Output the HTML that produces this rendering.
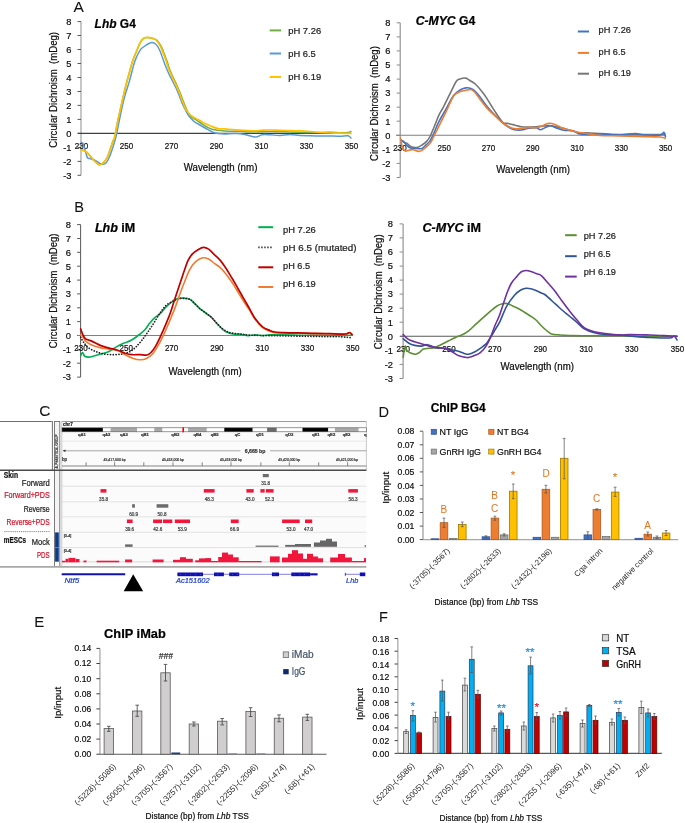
<!DOCTYPE html>
<html><head><meta charset="utf-8"><title>Figure</title>
<style>
html,body{margin:0;padding:0;background:#fff;}
body{width:685px;height:823px;overflow:hidden;}
svg{display:block;font-family:"Liberation Sans", sans-serif;will-change:transform;}
</style></head>
<body>
<svg width="685" height="823" viewBox="0 0 685 823">
<rect x="0" y="0" width="685" height="823" fill="#fff"/>
<text x="73.6" y="12.0" font-size="15.5" stroke="#111" stroke-width="0.05" fill="#111">A</text>
<line x1="81.0" y1="21.6" x2="81.0" y2="175.3" stroke="#BDBDBD" stroke-width="1.7" />
<line x1="77.5" y1="175.3" x2="81.0" y2="175.3" stroke="#595959" stroke-width="1.0" />
<text x="71.5" y="178.6" font-size="9.3" stroke="#262626" stroke-width="0.22" text-anchor="end">-3</text>
<line x1="77.5" y1="161.4" x2="81.0" y2="161.4" stroke="#595959" stroke-width="1.0" />
<text x="71.5" y="164.7" font-size="9.3" stroke="#262626" stroke-width="0.22" text-anchor="end">-2</text>
<line x1="77.5" y1="147.4" x2="81.0" y2="147.4" stroke="#595959" stroke-width="1.0" />
<text x="71.5" y="150.7" font-size="9.3" stroke="#262626" stroke-width="0.22" text-anchor="end">-1</text>
<line x1="77.5" y1="133.4" x2="81.0" y2="133.4" stroke="#595959" stroke-width="1.0" />
<text x="71.5" y="136.7" font-size="9.3" stroke="#262626" stroke-width="0.22" text-anchor="end">0</text>
<line x1="77.5" y1="119.4" x2="81.0" y2="119.4" stroke="#595959" stroke-width="1.0" />
<text x="71.5" y="122.7" font-size="9.3" stroke="#262626" stroke-width="0.22" text-anchor="end">1</text>
<line x1="77.5" y1="105.4" x2="81.0" y2="105.4" stroke="#595959" stroke-width="1.0" />
<text x="71.5" y="108.7" font-size="9.3" stroke="#262626" stroke-width="0.22" text-anchor="end">2</text>
<line x1="77.5" y1="91.5" x2="81.0" y2="91.5" stroke="#595959" stroke-width="1.0" />
<text x="71.5" y="94.8" font-size="9.3" stroke="#262626" stroke-width="0.22" text-anchor="end">3</text>
<line x1="77.5" y1="77.5" x2="81.0" y2="77.5" stroke="#595959" stroke-width="1.0" />
<text x="71.5" y="80.8" font-size="9.3" stroke="#262626" stroke-width="0.22" text-anchor="end">4</text>
<line x1="77.5" y1="63.5" x2="81.0" y2="63.5" stroke="#595959" stroke-width="1.0" />
<text x="71.5" y="66.8" font-size="9.3" stroke="#262626" stroke-width="0.22" text-anchor="end">5</text>
<line x1="77.5" y1="49.5" x2="81.0" y2="49.5" stroke="#595959" stroke-width="1.0" />
<text x="71.5" y="52.8" font-size="9.3" stroke="#262626" stroke-width="0.22" text-anchor="end">6</text>
<line x1="77.5" y1="35.5" x2="81.0" y2="35.5" stroke="#595959" stroke-width="1.0" />
<text x="71.5" y="38.8" font-size="9.3" stroke="#262626" stroke-width="0.22" text-anchor="end">7</text>
<line x1="77.5" y1="21.6" x2="81.0" y2="21.6" stroke="#595959" stroke-width="1.0" />
<text x="71.5" y="24.9" font-size="9.3" stroke="#262626" stroke-width="0.22" text-anchor="end">8</text>
<line x1="77.8" y1="133.4" x2="351.0" y2="133.4" stroke="#404040" stroke-width="1.1" />
<text x="81.5" y="149.3" font-size="9.3" stroke="#262626" stroke-width="0.22" text-anchor="middle" textLength="13.4" lengthAdjust="spacingAndGlyphs">230</text>
<text x="126.5" y="149.3" font-size="9.3" stroke="#262626" stroke-width="0.22" text-anchor="middle" textLength="13.4" lengthAdjust="spacingAndGlyphs">250</text>
<text x="171.5" y="149.3" font-size="9.3" stroke="#262626" stroke-width="0.22" text-anchor="middle" textLength="13.4" lengthAdjust="spacingAndGlyphs">270</text>
<text x="216.5" y="149.3" font-size="9.3" stroke="#262626" stroke-width="0.22" text-anchor="middle" textLength="13.4" lengthAdjust="spacingAndGlyphs">290</text>
<text x="261.5" y="149.3" font-size="9.3" stroke="#262626" stroke-width="0.22" text-anchor="middle" textLength="13.4" lengthAdjust="spacingAndGlyphs">310</text>
<text x="306.5" y="149.3" font-size="9.3" stroke="#262626" stroke-width="0.22" text-anchor="middle" textLength="13.4" lengthAdjust="spacingAndGlyphs">330</text>
<text x="351.5" y="149.3" font-size="9.3" stroke="#262626" stroke-width="0.22" text-anchor="middle" textLength="13.4" lengthAdjust="spacingAndGlyphs">350</text>
<text transform="translate(57.4,89.8) rotate(-90)" font-size="10.3" stroke="#262626" stroke-width="0.22" text-anchor="middle" textLength="115.7" lengthAdjust="spacingAndGlyphs">Circular Dichroism&#160; (mDeg)</text>
<text x="183.7" y="170.8" font-size="10.0" stroke="#262626" stroke-width="0.22" textLength="73.7" lengthAdjust="spacingAndGlyphs">Wavelength (nm)</text>
<text x="94.6" y="27.8" font-size="12.5" stroke="#000" stroke-width="0.22" font-weight="bold" fill="#000" textLength="41.2" lengthAdjust="spacingAndGlyphs"><tspan font-style="italic">Lhb</tspan> G4</text>
<path d="M81.5,150.2C81.9,150.2 83.1,150.1 84.0,150.5C84.9,150.9 85.8,151.4 87.0,152.5C88.2,153.6 89.7,155.5 91.0,157.0C92.3,158.5 93.7,160.2 95.0,161.5C96.3,162.8 97.6,164.4 98.9,164.7C100.2,164.9 101.7,164.1 103.0,163.0C104.3,161.9 105.8,160.2 107.0,158.0C108.2,155.8 109.0,152.8 110.0,150.0C111.0,147.2 112.2,143.1 113.0,141.0C113.8,138.9 113.8,140.9 114.6,137.4C115.4,133.9 116.8,125.8 118.0,120.0C119.2,114.2 120.7,107.9 121.9,102.4C123.2,96.9 124.3,91.9 125.5,87.0C126.7,82.1 127.9,77.7 129.2,73.2C130.4,68.7 131.8,63.6 133.0,60.0C134.2,56.4 135.4,54.0 136.5,51.3C137.6,48.6 138.5,46.0 139.5,44.0C140.5,42.0 141.4,40.6 142.3,39.6C143.2,38.6 143.9,38.1 145.0,37.8C146.1,37.5 147.8,37.6 149.1,37.7C150.4,37.8 151.7,38.1 152.9,38.5C154.1,38.9 155.4,39.2 156.4,39.9C157.4,40.6 158.2,41.8 158.9,42.8C159.6,43.8 160.1,44.4 160.8,45.7C161.5,46.9 162.2,48.6 162.9,50.3C163.6,52.0 164.3,54.0 165.1,56.0C165.8,58.0 166.7,60.1 167.4,62.3C168.1,64.5 168.6,66.7 169.5,69.1C170.4,71.5 171.7,74.1 172.9,76.8C174.1,79.5 175.6,82.6 176.8,85.2C178.0,87.8 178.9,89.9 179.9,92.3C180.9,94.7 181.9,97.6 182.7,99.8C183.5,102.0 183.9,102.8 184.9,105.3C185.9,107.8 187.8,112.5 189.0,114.5C190.2,116.5 190.9,116.6 192.0,117.5C193.1,118.4 194.5,118.9 195.8,119.7C197.1,120.5 198.3,121.4 200.0,122.5C201.7,123.6 203.8,125.3 206.0,126.5C208.2,127.7 209.8,128.9 212.9,129.6C216.0,130.3 220.2,130.6 224.7,130.9C229.2,131.2 234.9,131.2 240.0,131.3C245.1,131.5 250.5,131.8 255.5,131.8C260.5,131.8 264.2,131.5 270.0,131.5C275.8,131.5 283.3,131.8 290.0,132.0C296.7,132.2 303.3,132.4 310.0,132.5C316.7,132.6 325.0,132.2 330.0,132.3C335.0,132.4 337.0,132.8 340.0,132.8C343.0,132.8 346.2,132.7 348.0,132.5C349.8,132.3 350.5,131.7 351.0,131.5" fill="none" stroke="#70AD47" stroke-width="1.5" stroke-linejoin="round" stroke-linecap="round"/>
<path d="M81.5,142.3C81.8,142.5 82.4,142.2 83.0,143.5C83.6,144.8 84.3,147.7 85.0,150.0C85.7,152.3 86.6,156.2 87.4,157.6C88.2,159.0 89.0,158.1 90.0,158.5C91.0,158.9 92.3,159.3 93.5,159.8C94.7,160.3 95.9,160.9 97.0,161.5C98.1,162.1 99.0,163.1 100.0,163.5C101.0,163.9 102.1,164.3 103.1,164.2C104.1,164.1 105.0,164.0 106.0,163.0C107.0,162.0 108.0,160.2 109.0,158.0C110.0,155.8 111.1,152.7 112.0,150.0C112.9,147.3 113.7,144.8 114.5,142.0C115.3,139.2 115.8,137.7 116.7,133.5C117.6,129.3 118.8,122.8 120.0,117.0C121.2,111.2 122.5,104.8 124.0,99.0C125.5,93.2 127.5,87.7 129.2,81.9C130.9,76.1 132.7,68.3 134.0,64.0C135.3,59.7 136.1,58.1 137.0,56.0C137.9,53.9 138.6,52.6 139.4,51.3C140.2,50.0 140.8,49.1 142.0,48.0C143.2,46.9 145.5,45.5 146.7,44.7C147.9,44.0 148.2,43.9 149.0,43.5C149.8,43.1 151.0,42.6 151.8,42.5C152.6,42.4 153.2,42.5 154.0,43.0C154.8,43.5 155.9,44.1 156.9,45.4C157.9,46.7 159.0,48.8 160.0,51.0C161.0,53.2 161.9,56.1 162.8,58.6C163.7,61.1 164.5,63.6 165.5,66.0C166.5,68.4 167.5,70.9 168.6,73.2C169.7,75.5 170.8,77.6 172.0,80.0C173.2,82.4 174.7,85.3 175.9,87.8C177.1,90.3 178.0,92.6 179.0,95.0C180.0,97.4 180.8,100.1 181.8,102.4C182.8,104.7 184.0,107.0 185.0,109.0C186.0,111.0 186.6,112.5 187.6,114.1C188.6,115.7 189.8,117.2 191.0,118.5C192.2,119.8 193.4,121.0 194.9,122.1C196.4,123.2 198.2,123.9 200.0,125.0C201.8,126.1 203.8,127.3 206.0,128.5C208.2,129.7 210.9,131.4 212.9,132.2C214.9,133.0 216.0,133.2 218.0,133.5C220.0,133.8 221.9,133.9 224.7,133.9C227.5,133.9 231.6,133.4 235.0,133.5C238.4,133.6 241.6,133.9 245.0,134.5C248.4,135.1 252.7,136.9 255.5,137.0C258.3,137.1 259.6,135.2 262.0,134.8C264.4,134.4 267.0,134.7 270.0,134.8C273.0,134.9 276.7,135.6 280.0,135.5C283.3,135.4 286.7,134.5 290.0,134.5C293.3,134.5 296.7,135.3 300.0,135.5C303.3,135.7 306.7,135.7 310.0,135.8C313.3,135.9 316.7,136.0 320.0,136.0C323.3,136.0 326.7,135.9 330.0,136.0C333.3,136.1 337.0,136.3 340.0,136.3C343.0,136.3 346.2,135.5 348.0,135.8C349.8,136.1 350.5,137.6 351.0,138.0" fill="none" stroke="#5B9BD5" stroke-width="1.5" stroke-linejoin="round" stroke-linecap="round"/>
<path d="M81.5,150.2C81.9,150.2 83.1,150.1 84.0,150.5C84.9,150.9 85.8,151.4 87.0,152.5C88.2,153.6 89.7,155.5 91.0,157.0C92.3,158.5 93.7,160.2 95.0,161.5C96.3,162.8 97.6,164.4 98.9,164.7C100.2,164.9 101.7,164.1 103.0,163.0C104.3,161.9 105.8,160.2 107.0,158.0C108.2,155.8 109.0,152.8 110.0,150.0C111.0,147.2 112.2,143.1 113.0,141.0C113.8,138.9 113.8,140.9 114.6,137.4C115.4,133.9 116.8,125.8 118.0,120.0C119.2,114.2 120.7,107.9 121.9,102.4C123.2,96.9 124.3,91.9 125.5,87.0C126.7,82.1 127.9,77.7 129.2,73.2C130.4,68.7 131.8,63.6 133.0,60.0C134.2,56.4 135.4,54.0 136.5,51.3C137.6,48.6 138.5,46.0 139.5,44.0C140.5,42.0 141.4,40.6 142.3,39.6C143.2,38.6 144.0,38.2 145.0,37.8C146.0,37.4 147.0,37.3 148.2,37.4C149.4,37.5 150.8,37.8 152.0,38.2C153.2,38.6 154.5,38.9 155.5,39.6C156.5,40.3 157.3,41.5 158.0,42.5C158.7,43.5 159.2,44.1 159.9,45.4C160.6,46.6 161.3,48.3 162.0,50.0C162.7,51.7 163.4,53.7 164.2,55.7C164.9,57.7 165.8,59.8 166.5,62.0C167.2,64.2 167.7,66.4 168.6,68.8C169.5,71.2 170.8,73.8 172.0,76.5C173.2,79.2 174.7,82.3 175.9,84.9C177.1,87.5 178.0,89.6 179.0,92.0C180.0,94.4 181.0,97.3 181.8,99.5C182.6,101.7 183.3,103.3 184.0,105.0C184.7,106.7 185.3,108.3 186.1,109.7C186.9,111.1 188.0,112.4 189.0,113.5C190.0,114.6 190.8,115.4 192.0,116.2C193.2,117.0 194.7,117.9 196.0,118.6C197.3,119.3 198.3,119.7 200.0,120.6C201.7,121.5 203.8,123.0 206.0,124.0C208.2,125.0 210.9,126.2 212.9,126.9C214.9,127.7 216.0,128.2 218.0,128.5C220.0,128.8 221.9,128.7 224.7,128.9C227.5,129.1 231.6,129.6 235.0,129.8C238.4,130.0 241.6,130.1 245.0,130.3C248.4,130.5 252.7,130.9 255.5,130.9C258.3,130.9 259.6,130.3 262.0,130.2C264.4,130.0 267.0,130.0 270.0,130.0C273.0,130.0 276.7,130.2 280.0,130.3C283.3,130.4 286.7,130.6 290.0,130.7C293.3,130.8 296.7,130.7 300.0,130.8C303.3,130.9 306.7,131.2 310.0,131.5C313.3,131.8 316.7,132.2 320.0,132.5C323.3,132.8 326.7,132.9 330.0,133.0C333.3,133.1 336.5,133.1 340.0,133.2C343.5,133.3 349.2,133.4 351.0,133.4" fill="none" stroke="#FFC000" stroke-width="1.7" stroke-linejoin="round" stroke-linecap="round"/>
<line x1="269.7" y1="30.4" x2="281.1" y2="30.4" stroke="#70AD47" stroke-width="2.0" />
<text x="288.2" y="33.7" font-size="9.6" stroke="#222" stroke-width="0.22" fill="#222" textLength="33.0" lengthAdjust="spacingAndGlyphs">pH 7.26</text>
<line x1="269.7" y1="53.5" x2="281.1" y2="53.5" stroke="#5B9BD5" stroke-width="2.0" />
<text x="288.2" y="56.8" font-size="9.6" stroke="#222" stroke-width="0.22" fill="#222" textLength="27.5" lengthAdjust="spacingAndGlyphs">pH 6.5</text>
<line x1="269.7" y1="76.9" x2="281.1" y2="76.9" stroke="#FFC000" stroke-width="2.0" />
<text x="288.2" y="80.2" font-size="9.6" stroke="#222" stroke-width="0.22" fill="#222" textLength="33.0" lengthAdjust="spacingAndGlyphs">pH 6.19</text>
<line x1="400.2" y1="22.8" x2="400.2" y2="177.5" stroke="#8C8C8C" stroke-width="1.1" />
<line x1="396.7" y1="177.5" x2="400.2" y2="177.5" stroke="#8C8C8C" stroke-width="1.0" />
<text x="390.5" y="180.8" font-size="9.3" stroke="#262626" stroke-width="0.22" text-anchor="end">-3</text>
<line x1="396.7" y1="163.4" x2="400.2" y2="163.4" stroke="#8C8C8C" stroke-width="1.0" />
<text x="390.5" y="166.7" font-size="9.3" stroke="#262626" stroke-width="0.22" text-anchor="end">-2</text>
<line x1="396.7" y1="149.4" x2="400.2" y2="149.4" stroke="#8C8C8C" stroke-width="1.0" />
<text x="390.5" y="152.7" font-size="9.3" stroke="#262626" stroke-width="0.22" text-anchor="end">-1</text>
<line x1="396.7" y1="135.3" x2="400.2" y2="135.3" stroke="#8C8C8C" stroke-width="1.0" />
<text x="390.5" y="138.6" font-size="9.3" stroke="#262626" stroke-width="0.22" text-anchor="end">0</text>
<line x1="396.7" y1="121.2" x2="400.2" y2="121.2" stroke="#8C8C8C" stroke-width="1.0" />
<text x="390.5" y="124.5" font-size="9.3" stroke="#262626" stroke-width="0.22" text-anchor="end">1</text>
<line x1="396.7" y1="107.2" x2="400.2" y2="107.2" stroke="#8C8C8C" stroke-width="1.0" />
<text x="390.5" y="110.5" font-size="9.3" stroke="#262626" stroke-width="0.22" text-anchor="end">2</text>
<line x1="396.7" y1="93.1" x2="400.2" y2="93.1" stroke="#8C8C8C" stroke-width="1.0" />
<text x="390.5" y="96.4" font-size="9.3" stroke="#262626" stroke-width="0.22" text-anchor="end">3</text>
<line x1="396.7" y1="79.1" x2="400.2" y2="79.1" stroke="#8C8C8C" stroke-width="1.0" />
<text x="390.5" y="82.4" font-size="9.3" stroke="#262626" stroke-width="0.22" text-anchor="end">4</text>
<line x1="396.7" y1="65.0" x2="400.2" y2="65.0" stroke="#8C8C8C" stroke-width="1.0" />
<text x="390.5" y="68.3" font-size="9.3" stroke="#262626" stroke-width="0.22" text-anchor="end">5</text>
<line x1="396.7" y1="50.9" x2="400.2" y2="50.9" stroke="#8C8C8C" stroke-width="1.0" />
<text x="390.5" y="54.2" font-size="9.3" stroke="#262626" stroke-width="0.22" text-anchor="end">6</text>
<line x1="396.7" y1="36.9" x2="400.2" y2="36.9" stroke="#8C8C8C" stroke-width="1.0" />
<text x="390.5" y="40.2" font-size="9.3" stroke="#262626" stroke-width="0.22" text-anchor="end">7</text>
<line x1="396.7" y1="22.8" x2="400.2" y2="22.8" stroke="#8C8C8C" stroke-width="1.0" />
<text x="390.5" y="26.1" font-size="9.3" stroke="#262626" stroke-width="0.22" text-anchor="end">8</text>
<line x1="396.0" y1="135.3" x2="666.0" y2="135.3" stroke="#7F7F7F" stroke-width="1.1" />
<text x="400.0" y="151.1" font-size="9.3" stroke="#262626" stroke-width="0.22" text-anchor="middle" textLength="13.4" lengthAdjust="spacingAndGlyphs">230</text>
<text x="444.3" y="151.1" font-size="9.3" stroke="#262626" stroke-width="0.22" text-anchor="middle" textLength="13.4" lengthAdjust="spacingAndGlyphs">250</text>
<text x="488.5" y="151.1" font-size="9.3" stroke="#262626" stroke-width="0.22" text-anchor="middle" textLength="13.4" lengthAdjust="spacingAndGlyphs">270</text>
<text x="532.8" y="151.1" font-size="9.3" stroke="#262626" stroke-width="0.22" text-anchor="middle" textLength="13.4" lengthAdjust="spacingAndGlyphs">290</text>
<text x="577.1" y="151.1" font-size="9.3" stroke="#262626" stroke-width="0.22" text-anchor="middle" textLength="13.4" lengthAdjust="spacingAndGlyphs">310</text>
<text x="621.4" y="151.1" font-size="9.3" stroke="#262626" stroke-width="0.22" text-anchor="middle" textLength="13.4" lengthAdjust="spacingAndGlyphs">330</text>
<text x="665.6" y="151.1" font-size="9.3" stroke="#262626" stroke-width="0.22" text-anchor="middle" textLength="13.4" lengthAdjust="spacingAndGlyphs">350</text>
<text transform="translate(378.2,103.6) rotate(-90)" font-size="10.3" stroke="#262626" stroke-width="0.22" text-anchor="middle" textLength="114.8" lengthAdjust="spacingAndGlyphs">Circular Dichroism&#160; (mDeg)</text>
<text x="496.3" y="173.3" font-size="10.0" stroke="#262626" stroke-width="0.22" textLength="73.7" lengthAdjust="spacingAndGlyphs">Wavelength (nm)</text>
<text x="415.7" y="24.8" font-size="12.0" stroke="#000" stroke-width="0.22" font-weight="bold" fill="#000" textLength="59.6" lengthAdjust="spacingAndGlyphs"><tspan font-style="italic">C-MYC</tspan> G4</text>
<path d="M400.8,139.5C401.3,140.0 402.8,141.8 403.8,142.4C404.8,143.0 405.5,142.4 406.7,143.1C407.9,143.8 409.4,146.1 411.1,146.8C412.8,147.5 415.1,147.8 416.9,147.5C418.7,147.2 420.4,146.0 422.0,145.0C423.6,144.0 425.1,143.0 426.4,141.6C427.7,140.2 428.7,139.1 430.0,136.5C431.3,133.9 432.9,129.8 434.4,126.3C435.9,122.8 437.3,118.6 438.8,115.4C440.3,112.2 441.5,110.6 443.2,107.3C444.9,104.0 447.3,99.1 449.0,95.7C450.7,92.3 452.1,89.4 453.4,86.9C454.6,84.5 455.5,82.3 456.5,81.0C457.5,79.7 457.6,79.7 459.2,79.2C460.8,78.7 464.1,77.9 465.8,78.1C467.5,78.3 467.9,79.3 469.5,80.3C471.1,81.3 473.4,82.3 475.3,84.0C477.2,85.7 479.2,88.1 481.1,90.5C483.1,92.9 484.9,95.4 487.0,98.6C489.1,101.8 491.2,105.7 493.8,109.6C496.4,113.5 500.1,119.7 502.5,122.0C504.9,124.3 506.4,123.0 508.4,123.5C510.3,124.0 512.0,124.4 514.2,124.9C516.4,125.5 519.1,126.4 521.5,126.8C523.9,127.2 526.4,127.1 528.8,127.1C531.2,127.1 533.7,127.0 536.1,126.8C538.5,126.6 541.0,126.2 543.4,126.0C545.8,125.8 548.3,125.5 550.7,125.7C553.1,125.9 555.6,126.6 558.0,127.1C560.4,127.6 562.9,128.3 565.3,128.9C567.7,129.5 570.2,130.1 572.6,130.8C575.0,131.5 577.8,132.9 579.9,133.2C582.0,133.5 583.3,132.7 585.0,132.7C586.7,132.7 587.5,132.9 590.0,133.0C592.5,133.1 595.0,133.2 600.0,133.5C605.0,133.8 613.3,134.3 620.0,134.5C626.7,134.7 633.3,134.5 640.0,134.5C646.7,134.5 655.8,134.6 660.0,134.5C664.2,134.4 664.2,134.1 665.0,134.0" fill="none" stroke="#767676" stroke-width="1.6" stroke-linejoin="round" stroke-linecap="round"/>
<path d="M400.8,140.2C401.1,140.3 401.8,140.7 402.3,140.9C402.8,141.1 403.1,140.9 403.8,141.6C404.5,142.3 405.5,144.2 406.7,145.3C407.9,146.4 409.4,147.7 411.1,148.2C412.8,148.7 415.1,148.4 416.9,148.5C418.7,148.6 420.4,149.2 422.0,148.5C423.6,147.8 425.1,145.9 426.4,144.6C427.7,143.3 428.8,142.7 430.0,140.9C431.2,139.1 432.2,136.8 433.7,133.6C435.2,130.4 436.7,126.0 438.8,121.9C440.9,117.8 443.7,113.2 446.1,108.8C448.5,104.4 451.2,98.8 453.4,95.7C455.6,92.7 457.1,91.8 459.2,90.5C461.3,89.2 463.9,88.2 465.8,87.9C467.8,87.6 469.6,88.0 470.9,88.4C472.2,88.8 472.3,88.8 473.8,90.1C475.3,91.4 477.8,94.0 479.7,96.4C481.6,98.8 483.1,101.5 485.5,104.4C487.9,107.3 491.0,111.0 493.8,114.0C496.6,117.0 500.1,120.5 502.5,122.7C504.9,124.9 506.4,125.9 508.4,127.1C510.3,128.3 512.0,129.2 514.2,129.7C516.4,130.2 519.1,130.2 521.5,130.0C523.9,129.8 526.4,128.7 528.8,128.3C531.2,127.9 534.1,127.6 536.1,127.8C538.1,128.0 538.8,129.8 540.5,129.7C542.2,129.6 544.6,127.8 546.3,127.1C548.0,126.4 548.8,125.5 550.7,125.7C552.7,126.0 555.8,127.8 558.0,128.6C560.2,129.4 561.4,129.9 563.8,130.3C566.2,130.7 569.9,130.2 572.6,130.8C575.3,131.4 577.8,133.5 579.9,134.1C582.0,134.7 583.3,134.3 585.0,134.4C586.7,134.5 587.5,134.6 590.0,134.5C592.5,134.4 595.0,133.9 600.0,134.0C605.0,134.1 614.2,135.1 620.0,135.0C625.8,134.9 630.8,133.5 635.0,133.5C639.2,133.5 640.8,134.8 645.0,135.0C649.2,135.2 656.9,135.5 660.0,135.0C663.1,134.5 663.0,131.9 663.9,132.2C664.8,132.5 665.2,136.2 665.5,137.0" fill="none" stroke="#4472C4" stroke-width="1.6" stroke-linejoin="round" stroke-linecap="round"/>
<path d="M400.5,138.0C400.8,139.5 401.5,144.6 402.3,146.8C403.1,149.0 404.0,150.6 405.2,151.1C406.4,151.6 408.3,150.2 409.6,150.0C410.9,149.8 411.7,149.5 413.2,149.7C414.7,149.9 416.9,151.3 418.4,151.4C419.9,151.5 420.7,151.2 422.0,150.4C423.3,149.6 424.9,148.1 426.4,146.8C427.9,145.5 429.4,144.6 430.8,142.4C432.2,140.2 433.5,136.8 435.1,133.6C436.7,130.4 438.5,127.1 440.3,123.4C442.1,119.8 443.9,116.2 446.1,111.7C448.3,107.2 451.2,99.7 453.4,96.4C455.6,93.1 457.2,93.0 459.2,92.0C461.1,91.0 463.2,90.9 465.1,90.5C467.1,90.1 469.3,89.2 470.9,89.5C472.5,89.8 472.9,90.1 474.6,92.0C476.3,93.9 479.0,98.1 481.1,100.8C483.2,103.5 484.9,105.8 487.0,108.1C489.1,110.4 491.2,112.3 493.8,114.7C496.4,117.1 500.1,120.8 502.5,122.7C504.9,124.7 506.4,125.4 508.4,126.4C510.3,127.4 512.0,128.3 514.2,128.6C516.4,128.9 519.1,128.5 521.5,128.3C523.9,128.1 526.4,127.5 528.8,127.4C531.2,127.3 533.7,128.1 536.1,127.8C538.5,127.5 541.5,126.1 543.4,125.4C545.3,124.7 546.1,123.8 547.8,123.5C549.5,123.2 551.4,123.2 553.6,123.9C555.8,124.6 558.5,126.4 560.9,127.4C563.3,128.4 565.8,129.0 568.2,129.7C570.6,130.4 572.7,131.2 575.5,131.8C578.3,132.4 580.9,132.6 585.0,133.2C589.1,133.8 594.2,135.1 600.0,135.5C605.8,135.9 613.3,135.7 620.0,135.9C626.7,136.1 633.3,136.3 640.0,136.5C646.7,136.7 655.8,136.7 660.0,137.0C664.2,137.3 664.2,138.2 665.0,138.4" fill="none" stroke="#ED7D31" stroke-width="1.6" stroke-linejoin="round" stroke-linecap="round"/>
<line x1="577.8" y1="31.5" x2="589.0" y2="31.5" stroke="#4472C4" stroke-width="2.0" />
<text x="598.6" y="33.3" font-size="9.8" stroke="#222" stroke-width="0.22" fill="#222" textLength="32.3" lengthAdjust="spacingAndGlyphs">pH 7.26</text>
<line x1="577.8" y1="52.9" x2="589.0" y2="52.9" stroke="#ED7D31" stroke-width="2.0" />
<text x="598.6" y="54.7" font-size="9.8" stroke="#222" stroke-width="0.22" fill="#222" textLength="27.0" lengthAdjust="spacingAndGlyphs">pH 6.5</text>
<line x1="577.8" y1="73.7" x2="589.0" y2="73.7" stroke="#767676" stroke-width="2.0" />
<text x="598.6" y="75.5" font-size="9.8" stroke="#222" stroke-width="0.22" fill="#222" textLength="32.3" lengthAdjust="spacingAndGlyphs">pH 6.19</text>
<text x="74.3" y="212.2" font-size="14.6" stroke="#111" stroke-width="0.05" fill="#111">B</text>
<line x1="80.6" y1="224.6" x2="80.6" y2="377.1" stroke="#595959" stroke-width="1.0" />
<line x1="77.1" y1="377.1" x2="80.6" y2="377.1" stroke="#595959" stroke-width="1.0" />
<text x="71.0" y="380.4" font-size="9.3" stroke="#262626" stroke-width="0.22" text-anchor="end">-3</text>
<line x1="77.1" y1="363.2" x2="80.6" y2="363.2" stroke="#595959" stroke-width="1.0" />
<text x="71.0" y="366.5" font-size="9.3" stroke="#262626" stroke-width="0.22" text-anchor="end">-2</text>
<line x1="77.1" y1="349.4" x2="80.6" y2="349.4" stroke="#595959" stroke-width="1.0" />
<text x="71.0" y="352.7" font-size="9.3" stroke="#262626" stroke-width="0.22" text-anchor="end">-1</text>
<line x1="77.1" y1="335.5" x2="80.6" y2="335.5" stroke="#595959" stroke-width="1.0" />
<text x="71.0" y="338.8" font-size="9.3" stroke="#262626" stroke-width="0.22" text-anchor="end">0</text>
<line x1="77.1" y1="321.6" x2="80.6" y2="321.6" stroke="#595959" stroke-width="1.0" />
<text x="71.0" y="324.9" font-size="9.3" stroke="#262626" stroke-width="0.22" text-anchor="end">1</text>
<line x1="77.1" y1="307.8" x2="80.6" y2="307.8" stroke="#595959" stroke-width="1.0" />
<text x="71.0" y="311.1" font-size="9.3" stroke="#262626" stroke-width="0.22" text-anchor="end">2</text>
<line x1="77.1" y1="293.9" x2="80.6" y2="293.9" stroke="#595959" stroke-width="1.0" />
<text x="71.0" y="297.2" font-size="9.3" stroke="#262626" stroke-width="0.22" text-anchor="end">3</text>
<line x1="77.1" y1="280.1" x2="80.6" y2="280.1" stroke="#595959" stroke-width="1.0" />
<text x="71.0" y="283.4" font-size="9.3" stroke="#262626" stroke-width="0.22" text-anchor="end">4</text>
<line x1="77.1" y1="266.2" x2="80.6" y2="266.2" stroke="#595959" stroke-width="1.0" />
<text x="71.0" y="269.5" font-size="9.3" stroke="#262626" stroke-width="0.22" text-anchor="end">5</text>
<line x1="77.1" y1="252.3" x2="80.6" y2="252.3" stroke="#595959" stroke-width="1.0" />
<text x="71.0" y="255.6" font-size="9.3" stroke="#262626" stroke-width="0.22" text-anchor="end">6</text>
<line x1="77.1" y1="238.5" x2="80.6" y2="238.5" stroke="#595959" stroke-width="1.0" />
<text x="71.0" y="241.8" font-size="9.3" stroke="#262626" stroke-width="0.22" text-anchor="end">7</text>
<line x1="77.1" y1="224.6" x2="80.6" y2="224.6" stroke="#595959" stroke-width="1.0" />
<text x="71.0" y="227.9" font-size="9.3" stroke="#262626" stroke-width="0.22" text-anchor="end">8</text>
<line x1="77.8" y1="335.5" x2="353.0" y2="335.5" stroke="#7F7F7F" stroke-width="1.1" />
<text x="81.0" y="351.3" font-size="9.3" stroke="#262626" stroke-width="0.22" text-anchor="middle" textLength="13.4" lengthAdjust="spacingAndGlyphs">230</text>
<text x="126.3" y="351.3" font-size="9.3" stroke="#262626" stroke-width="0.22" text-anchor="middle" textLength="13.4" lengthAdjust="spacingAndGlyphs">250</text>
<text x="171.6" y="351.3" font-size="9.3" stroke="#262626" stroke-width="0.22" text-anchor="middle" textLength="13.4" lengthAdjust="spacingAndGlyphs">270</text>
<text x="216.9" y="351.3" font-size="9.3" stroke="#262626" stroke-width="0.22" text-anchor="middle" textLength="13.4" lengthAdjust="spacingAndGlyphs">290</text>
<text x="262.2" y="351.3" font-size="9.3" stroke="#262626" stroke-width="0.22" text-anchor="middle" textLength="13.4" lengthAdjust="spacingAndGlyphs">310</text>
<text x="307.5" y="351.3" font-size="9.3" stroke="#262626" stroke-width="0.22" text-anchor="middle" textLength="13.4" lengthAdjust="spacingAndGlyphs">330</text>
<text x="352.8" y="351.3" font-size="9.3" stroke="#262626" stroke-width="0.22" text-anchor="middle" textLength="13.4" lengthAdjust="spacingAndGlyphs">350</text>
<text transform="translate(57.2,290.9) rotate(-90)" font-size="10.3" stroke="#262626" stroke-width="0.22" text-anchor="middle" textLength="114.8" lengthAdjust="spacingAndGlyphs">Circular Dichroism&#160; (mDeg)</text>
<text x="168.6" y="375.0" font-size="10.0" stroke="#262626" stroke-width="0.22" textLength="73.1" lengthAdjust="spacingAndGlyphs">Wavelength (nm)</text>
<text x="94.9" y="231.6" font-size="12.0" stroke="#000" stroke-width="0.22" font-weight="bold" fill="#000" textLength="40.4" lengthAdjust="spacingAndGlyphs"><tspan font-style="italic">Lhb</tspan> iM</text>
<path d="M80.7,355.5C81.0,355.0 81.9,352.4 82.6,352.5C83.3,352.6 83.5,355.6 84.8,356.3C86.1,357.1 87.5,357.4 90.2,357.0C92.9,356.6 97.8,354.9 100.8,354.0C103.8,353.1 105.9,352.8 108.4,351.7C110.9,350.6 113.5,348.5 116.0,347.1C118.5,345.7 121.1,344.4 123.6,343.3C126.1,342.2 128.7,341.7 131.2,340.3C133.7,338.9 136.5,336.8 138.8,335.0C141.1,333.2 143.1,331.6 144.9,329.7C146.7,327.8 147.9,325.5 149.4,323.6C150.9,321.7 152.2,320.0 154.0,318.3C155.8,316.6 158.1,315.6 160.1,313.7C162.1,311.8 164.1,308.9 166.1,306.9C168.1,304.9 170.7,302.8 172.2,301.6C173.7,300.4 173.8,300.1 175.0,299.6C176.2,299.1 177.9,298.6 179.4,298.4C180.9,298.1 182.1,298.0 183.8,298.1C185.5,298.2 187.9,298.3 189.6,299.1C191.3,299.9 192.3,301.2 194.0,302.8C195.7,304.4 197.9,306.9 199.8,308.6C201.8,310.3 203.8,311.5 205.7,313.0C207.6,314.5 209.6,315.6 211.5,317.4C213.4,319.2 215.4,321.8 217.3,323.9C219.2,326.0 221.2,328.3 223.2,329.8C225.1,331.3 227.1,332.4 229.0,333.1C230.9,333.8 233.0,334.0 234.9,334.2C236.8,334.4 238.5,334.0 240.7,334.2C242.9,334.4 245.6,335.5 248.0,335.6C250.4,335.7 252.9,334.9 255.3,334.9C257.7,334.9 260.2,335.6 262.6,335.6C265.0,335.6 267.0,335.0 269.9,334.9C272.8,334.8 275.0,334.8 280.0,334.8C285.0,334.9 293.3,335.1 300.0,335.2C306.7,335.3 313.3,335.3 320.0,335.4C326.7,335.5 334.7,335.6 340.0,335.6C345.3,335.6 350.0,335.3 352.0,335.2" fill="none" stroke="#00B050" stroke-width="1.6" stroke-linejoin="round" stroke-linecap="round"/>
<path d="M80.7,337.3C81.1,338.1 82.0,340.0 83.3,341.8C84.6,343.6 86.4,346.2 88.6,347.9C90.8,349.5 93.7,350.7 96.2,351.7C98.7,352.7 101.0,353.5 103.8,354.0C106.6,354.5 110.0,354.7 113.0,354.7C116.0,354.7 119.3,354.5 122.1,354.0C124.9,353.5 127.4,352.8 129.7,351.7C132.0,350.6 133.8,349.0 135.8,347.1C137.8,345.2 139.8,342.8 141.8,340.3C143.8,337.8 145.9,334.8 147.9,331.9C149.9,329.0 152.0,326.0 154.0,322.8C156.0,319.6 158.1,315.8 160.1,312.9C162.1,310.0 164.1,307.2 166.1,305.3C168.1,303.4 170.7,302.5 172.2,301.6C173.7,300.8 173.8,300.7 175.0,300.2C176.2,299.7 177.9,298.9 179.4,298.6C180.9,298.3 182.1,298.3 183.8,298.4C185.5,298.5 187.9,298.6 189.6,299.3C191.3,300.0 192.3,301.2 194.0,302.8C195.7,304.4 197.9,306.9 199.8,308.6C201.8,310.3 203.8,311.5 205.7,313.0C207.6,314.5 209.6,315.6 211.5,317.4C213.4,319.2 215.4,321.9 217.3,323.9C219.2,325.9 221.2,327.9 223.2,329.3C225.1,330.7 227.1,331.6 229.0,332.3C230.9,333.0 233.0,333.2 234.9,333.5C236.8,333.8 238.5,333.8 240.7,334.0C242.9,334.2 244.8,334.8 248.0,335.0C251.2,335.2 254.7,335.4 260.0,335.5C265.3,335.6 273.3,335.7 280.0,335.8C286.7,335.9 293.3,336.1 300.0,336.2C306.7,336.3 313.3,336.4 320.0,336.5C326.7,336.6 334.7,336.6 340.0,336.8C345.3,337.0 350.0,337.6 352.0,337.7" fill="none" stroke="#222" stroke-width="1.7" stroke-linejoin="round" stroke-linecap="round" stroke-dasharray="0.1,2.7"/>
<path d="M80.7,335.0C81.0,335.2 81.8,335.5 82.6,336.5C83.4,337.5 84.1,339.7 85.6,341.1C87.1,342.5 89.2,343.8 91.7,344.9C94.2,346.0 98.0,347.2 100.8,347.9C103.6,348.6 105.6,348.7 108.4,349.1C111.2,349.5 114.7,349.3 117.5,350.2C120.3,351.1 122.6,353.4 125.1,354.7C127.6,356.0 130.2,357.3 132.7,358.2C135.2,359.1 138.0,359.8 140.3,359.8C142.6,359.9 144.4,359.5 146.4,358.5C148.4,357.5 150.5,356.3 152.5,354.0C154.5,351.7 156.6,348.2 158.5,344.9C160.4,341.6 162.1,338.0 163.9,334.2C165.7,330.4 167.3,326.5 169.2,322.1C171.0,317.7 173.3,312.3 175.0,307.9C176.7,303.5 177.9,299.5 179.4,295.5C180.9,291.5 182.1,288.1 183.8,283.8C185.5,279.5 187.7,273.5 189.6,269.9C191.5,266.2 193.2,263.9 195.4,261.9C197.6,259.9 200.5,258.3 202.7,257.8C204.9,257.3 206.6,258.1 208.6,259.0C210.6,259.9 212.4,261.9 214.4,263.4C216.4,264.8 218.4,265.9 220.3,267.7C222.2,269.5 224.2,271.9 226.1,274.3C228.0,276.7 229.9,279.4 231.9,282.3C233.9,285.2 235.9,288.6 237.8,291.8C239.8,295.0 241.7,298.2 243.6,301.3C245.5,304.4 247.6,307.1 249.5,310.1C251.4,313.2 253.1,316.7 255.3,319.6C257.5,322.5 260.2,325.7 262.6,327.6C265.0,329.5 267.8,330.4 269.9,331.2C272.0,332.0 272.5,332.4 275.0,332.7C277.5,333.0 281.1,333.1 285.0,333.2C288.9,333.3 293.2,333.1 298.2,333.2C303.2,333.3 309.7,333.5 315.0,333.6C320.3,333.7 325.0,333.7 330.0,333.8C335.0,333.9 341.8,334.4 345.0,334.2C348.2,334.0 348.3,332.7 349.5,332.8C350.7,332.9 351.6,334.5 352.0,334.8" fill="none" stroke="#ED7D31" stroke-width="1.6" stroke-linejoin="round" stroke-linecap="round"/>
<path d="M80.7,328.9C81.0,329.8 81.8,332.5 82.6,334.2C83.4,335.9 84.1,337.6 85.6,338.8C87.1,340.0 89.2,340.0 91.7,341.1C94.2,342.2 98.0,344.5 100.8,345.6C103.6,346.7 105.6,347.1 108.4,347.9C111.2,348.7 114.7,349.3 117.5,350.2C120.3,351.1 122.6,352.4 125.1,353.2C127.6,353.9 130.2,354.4 132.7,354.7C135.2,354.9 137.9,354.6 140.3,354.7C142.7,354.8 145.3,355.4 147.1,355.0C148.9,354.6 149.6,353.9 151.0,352.5C152.4,351.1 153.9,349.2 155.5,346.4C157.1,343.6 159.0,339.5 160.8,335.7C162.6,331.9 164.5,327.5 166.1,323.6C167.7,319.7 169.0,316.7 170.5,312.5C172.0,308.3 173.5,302.9 175.0,298.4C176.5,293.9 177.9,289.7 179.4,285.3C180.9,280.9 182.4,276.2 183.8,272.1C185.2,268.0 186.7,263.4 188.1,260.4C189.5,257.4 190.8,255.7 192.5,253.9C194.2,252.1 196.6,250.6 198.4,249.5C200.2,248.4 201.8,247.4 203.5,247.3C205.2,247.2 206.8,247.9 208.6,249.1C210.4,250.3 212.4,252.7 214.4,254.6C216.4,256.5 218.4,258.1 220.3,260.4C222.2,262.7 224.2,265.6 226.1,268.5C228.0,271.4 229.9,274.7 231.9,278.0C233.9,281.3 235.9,284.8 237.8,288.2C239.8,291.6 241.7,295.0 243.6,298.4C245.5,301.8 247.6,305.2 249.5,308.6C251.4,312.0 253.1,315.8 255.3,318.8C257.5,321.9 260.2,324.9 262.6,326.9C265.0,328.8 267.8,329.6 269.9,330.5C272.0,331.4 272.5,331.6 275.0,332.0C277.5,332.4 281.1,332.5 285.0,332.6C288.9,332.8 293.2,332.8 298.2,332.9C303.2,333.0 309.7,333.3 315.0,333.4C320.3,333.5 325.0,333.6 330.0,333.7C335.0,333.8 341.8,334.2 345.0,334.0C348.2,333.8 348.3,332.4 349.5,332.5C350.7,332.6 351.6,334.2 352.0,334.5" fill="none" stroke="#C00000" stroke-width="1.7" stroke-linejoin="round" stroke-linecap="round"/>
<line x1="258.3" y1="227.2" x2="273.2" y2="227.2" stroke="#00B050" stroke-width="2.0" />
<text x="283.1" y="232.8" font-size="9.4" stroke="#222" stroke-width="0.22" fill="#222" textLength="32.7" lengthAdjust="spacingAndGlyphs">pH 7.26</text>
<line x1="258.3" y1="247.4" x2="273.2" y2="247.4" stroke="#222" stroke-width="1.6" stroke-dasharray="1.3,1.7"/>
<text x="283.1" y="250.9" font-size="9.4" stroke="#222" stroke-width="0.22" fill="#222" textLength="73.4" lengthAdjust="spacingAndGlyphs">pH 6.5 (mutated)</text>
<line x1="258.3" y1="267.3" x2="273.2" y2="267.3" stroke="#C00000" stroke-width="2.0" />
<text x="283.1" y="268.8" font-size="9.4" stroke="#222" stroke-width="0.22" fill="#222" textLength="27.0" lengthAdjust="spacingAndGlyphs">pH 6.5</text>
<line x1="258.3" y1="287.0" x2="273.2" y2="287.0" stroke="#ED7D31" stroke-width="2.0" />
<text x="283.1" y="286.7" font-size="9.4" stroke="#222" stroke-width="0.22" fill="#222" textLength="32.7" lengthAdjust="spacingAndGlyphs">pH 6.19</text>
<line x1="403.1" y1="223.9" x2="403.1" y2="378.5" stroke="#8C8C8C" stroke-width="1.1" />
<line x1="399.6" y1="378.5" x2="403.1" y2="378.5" stroke="#8C8C8C" stroke-width="1.0" />
<text x="393.0" y="381.8" font-size="9.3" stroke="#262626" stroke-width="0.22" text-anchor="end">-3</text>
<line x1="399.6" y1="364.4" x2="403.1" y2="364.4" stroke="#8C8C8C" stroke-width="1.0" />
<text x="393.0" y="367.7" font-size="9.3" stroke="#262626" stroke-width="0.22" text-anchor="end">-2</text>
<line x1="399.6" y1="350.4" x2="403.1" y2="350.4" stroke="#8C8C8C" stroke-width="1.0" />
<text x="393.0" y="353.7" font-size="9.3" stroke="#262626" stroke-width="0.22" text-anchor="end">-1</text>
<line x1="399.6" y1="336.3" x2="403.1" y2="336.3" stroke="#8C8C8C" stroke-width="1.0" />
<text x="393.0" y="339.6" font-size="9.3" stroke="#262626" stroke-width="0.22" text-anchor="end">0</text>
<line x1="399.6" y1="322.2" x2="403.1" y2="322.2" stroke="#8C8C8C" stroke-width="1.0" />
<text x="393.0" y="325.6" font-size="9.3" stroke="#262626" stroke-width="0.22" text-anchor="end">1</text>
<line x1="399.6" y1="308.2" x2="403.1" y2="308.2" stroke="#8C8C8C" stroke-width="1.0" />
<text x="393.0" y="311.5" font-size="9.3" stroke="#262626" stroke-width="0.22" text-anchor="end">2</text>
<line x1="399.6" y1="294.1" x2="403.1" y2="294.1" stroke="#8C8C8C" stroke-width="1.0" />
<text x="393.0" y="297.4" font-size="9.3" stroke="#262626" stroke-width="0.22" text-anchor="end">3</text>
<line x1="399.6" y1="280.1" x2="403.1" y2="280.1" stroke="#8C8C8C" stroke-width="1.0" />
<text x="393.0" y="283.4" font-size="9.3" stroke="#262626" stroke-width="0.22" text-anchor="end">4</text>
<line x1="399.6" y1="266.1" x2="403.1" y2="266.1" stroke="#8C8C8C" stroke-width="1.0" />
<text x="393.0" y="269.4" font-size="9.3" stroke="#262626" stroke-width="0.22" text-anchor="end">5</text>
<line x1="399.6" y1="252.0" x2="403.1" y2="252.0" stroke="#8C8C8C" stroke-width="1.0" />
<text x="393.0" y="255.3" font-size="9.3" stroke="#262626" stroke-width="0.22" text-anchor="end">6</text>
<line x1="399.6" y1="237.9" x2="403.1" y2="237.9" stroke="#8C8C8C" stroke-width="1.0" />
<text x="393.0" y="241.2" font-size="9.3" stroke="#262626" stroke-width="0.22" text-anchor="end">7</text>
<line x1="399.6" y1="223.9" x2="403.1" y2="223.9" stroke="#8C8C8C" stroke-width="1.0" />
<text x="393.0" y="227.2" font-size="9.3" stroke="#262626" stroke-width="0.22" text-anchor="end">8</text>
<line x1="400.0" y1="336.3" x2="677.5" y2="336.3" stroke="#595959" stroke-width="1.1" />
<text x="403.3" y="352.3" font-size="9.3" stroke="#262626" stroke-width="0.22" text-anchor="middle" textLength="13.4" lengthAdjust="spacingAndGlyphs">230</text>
<text x="449.0" y="352.3" font-size="9.3" stroke="#262626" stroke-width="0.22" text-anchor="middle" textLength="13.4" lengthAdjust="spacingAndGlyphs">250</text>
<text x="494.7" y="352.3" font-size="9.3" stroke="#262626" stroke-width="0.22" text-anchor="middle" textLength="13.4" lengthAdjust="spacingAndGlyphs">270</text>
<text x="540.4" y="352.3" font-size="9.3" stroke="#262626" stroke-width="0.22" text-anchor="middle" textLength="13.4" lengthAdjust="spacingAndGlyphs">290</text>
<text x="586.1" y="352.3" font-size="9.3" stroke="#262626" stroke-width="0.22" text-anchor="middle" textLength="13.4" lengthAdjust="spacingAndGlyphs">310</text>
<text x="631.8" y="352.3" font-size="9.3" stroke="#262626" stroke-width="0.22" text-anchor="middle" textLength="13.4" lengthAdjust="spacingAndGlyphs">330</text>
<text x="677.5" y="352.3" font-size="9.3" stroke="#262626" stroke-width="0.22" text-anchor="middle" textLength="13.4" lengthAdjust="spacingAndGlyphs">350</text>
<text transform="translate(382.4,291.8) rotate(-90)" font-size="10.3" stroke="#262626" stroke-width="0.22" text-anchor="middle" textLength="114.7" lengthAdjust="spacingAndGlyphs">Circular Dichroism&#160; (mDeg)</text>
<text x="500.5" y="369.9" font-size="10.0" stroke="#262626" stroke-width="0.22" textLength="73.5" lengthAdjust="spacingAndGlyphs">Wavelength (nm)</text>
<text x="422.4" y="231.7" font-size="12.0" stroke="#000" stroke-width="0.22" font-weight="bold" fill="#000" textLength="58.6" lengthAdjust="spacingAndGlyphs"><tspan font-style="italic">C-MYC</tspan> iM</text>
<path d="M403.2,357.1C403.5,355.3 404.4,347.1 405.1,346.1C405.8,345.1 405.7,349.9 407.3,351.2C408.9,352.5 412.7,353.9 414.6,354.2C416.6,354.4 417.5,353.5 419.0,352.7C420.5,351.9 421.7,349.8 423.4,349.1C425.1,348.4 427.3,348.6 429.2,348.3C431.1,348.1 433.1,348.2 435.0,347.6C436.9,347.0 438.7,345.8 440.9,344.7C443.1,343.6 445.8,342.2 448.2,341.0C450.6,339.8 453.1,338.5 455.5,337.4C457.9,336.3 460.6,335.6 462.8,334.5C465.0,333.4 466.4,332.5 468.6,330.8C470.8,329.1 473.5,326.4 475.9,324.2C478.3,322.0 480.8,319.9 483.2,317.7C485.6,315.5 488.2,313.1 490.5,311.1C492.8,309.2 495.0,307.2 497.0,306.0C499.0,304.8 500.8,304.2 502.5,303.8C504.2,303.4 505.3,303.1 507.0,303.5C508.7,303.9 510.5,304.9 512.7,305.9C514.9,306.9 516.9,307.7 520.0,309.5C523.1,311.3 528.4,314.8 531.1,316.5C533.8,318.2 534.3,318.5 536.0,320.0C537.7,321.5 539.6,324.0 541.3,325.7C543.0,327.4 544.3,328.6 546.0,330.0C547.7,331.4 549.2,333.1 551.5,333.9C553.8,334.7 556.9,334.7 560.0,335.0C563.1,335.3 565.0,335.4 570.0,335.5C575.0,335.6 581.7,335.8 590.0,335.8C598.3,335.8 613.3,335.5 620.0,335.5C626.7,335.5 623.3,335.8 630.0,336.0C636.7,336.2 652.2,336.5 660.0,336.5C667.8,336.5 674.2,336.1 677.0,336.0" fill="none" stroke="#5A8F32" stroke-width="1.6" stroke-linejoin="round" stroke-linecap="round"/>
<path d="M403.2,338.8C404.1,339.5 406.9,342.1 408.8,343.2C410.7,344.3 412.4,344.9 414.6,345.4C416.8,345.9 419.7,346.2 421.9,346.1C424.1,346.0 425.5,344.4 427.7,344.7C429.9,344.9 432.3,347.0 435.0,347.6C437.7,348.2 441.1,347.9 443.8,348.3C446.5,348.7 448.7,349.3 451.1,349.8C453.5,350.3 456.2,350.6 458.4,351.2C460.6,351.8 462.5,352.9 464.2,353.4C465.9,353.9 466.9,354.4 468.6,354.2C470.3,354.0 472.6,353.0 474.5,352.0C476.4,351.0 478.4,349.7 480.3,348.3C482.2,346.9 484.4,345.7 486.1,343.9C487.8,342.1 489.0,339.7 490.5,337.4C492.0,335.1 493.3,332.8 494.9,330.1C496.5,327.4 498.1,325.3 500.0,321.3C501.9,317.3 504.2,310.7 506.6,306.3C509.1,301.9 512.5,297.6 514.7,295.0C516.9,292.4 518.1,291.6 520.0,290.5C521.9,289.4 524.2,288.6 526.0,288.3C527.8,288.0 529.3,288.4 531.0,288.8C532.7,289.2 534.3,289.8 536.0,290.5C537.7,291.2 539.7,292.2 541.3,293.0C542.9,293.8 543.0,293.1 545.4,295.0C547.8,296.9 552.8,301.7 555.6,304.2C558.4,306.7 559.6,307.9 562.0,310.0C564.4,312.1 567.4,314.4 569.9,316.5C572.4,318.6 574.6,320.4 577.0,322.5C579.4,324.6 581.3,327.1 584.2,328.8C587.1,330.5 590.9,331.9 594.4,332.8C597.9,333.8 600.7,334.1 605.0,334.5C609.3,334.9 615.8,334.8 620.0,335.0C624.2,335.2 625.0,335.6 630.0,336.0C635.0,336.4 643.3,337.2 650.0,337.5C656.7,337.8 666.0,338.2 670.0,338.0C674.0,337.8 672.8,335.7 674.0,336.0C675.2,336.3 676.5,339.3 677.0,340.0" fill="none" stroke="#2F5597" stroke-width="1.6" stroke-linejoin="round" stroke-linecap="round"/>
<path d="M403.2,334.5C403.6,335.0 404.6,336.4 405.8,337.4C407.0,338.4 408.7,339.6 410.2,340.3C411.7,341.0 412.7,341.2 414.6,341.8C416.6,342.4 419.5,343.2 421.9,343.9C424.3,344.6 426.8,345.5 429.2,346.1C431.6,346.7 434.1,347.2 436.5,347.6C438.9,348.0 441.4,347.7 443.8,348.3C446.2,348.9 448.7,350.0 451.1,351.2C453.5,352.4 456.2,354.6 458.4,355.6C460.6,356.6 462.5,356.8 464.2,357.1C465.9,357.4 466.9,357.8 468.6,357.5C470.3,357.2 472.6,356.4 474.5,355.6C476.4,354.8 478.4,354.3 480.3,352.7C482.2,351.1 484.4,348.7 486.1,346.1C487.8,343.6 489.0,340.8 490.5,337.4C492.0,334.0 493.3,329.6 494.9,325.7C496.5,321.8 498.1,319.3 500.0,314.0C501.9,308.7 504.7,299.2 506.6,294.0C508.5,288.8 509.8,285.9 511.5,283.0C513.2,280.1 515.2,278.4 516.8,276.6C518.4,274.8 519.5,273.0 521.0,272.0C522.5,271.0 524.3,270.6 526.0,270.5C527.7,270.4 529.3,271.0 531.0,271.5C532.7,272.0 534.3,272.8 536.0,273.5C537.7,274.2 539.3,274.0 541.3,275.6C543.3,277.2 545.6,280.3 548.0,283.0C550.4,285.7 553.3,289.0 555.6,292.0C557.9,295.0 559.6,297.8 562.0,301.0C564.4,304.2 567.4,308.2 569.9,311.4C572.4,314.6 574.6,317.3 577.0,320.0C579.4,322.7 581.3,325.7 584.2,327.7C587.1,329.7 590.9,330.8 594.4,331.8C597.9,332.8 600.7,333.0 605.0,333.5C609.3,334.0 615.8,334.7 620.0,334.9C624.2,335.1 625.0,334.5 630.0,334.5C635.0,334.5 643.3,334.8 650.0,335.0C656.7,335.2 665.5,335.8 670.0,336.0C674.5,336.2 675.8,336.4 677.0,336.5" fill="none" stroke="#7030A0" stroke-width="1.6" stroke-linejoin="round" stroke-linecap="round"/>
<line x1="565.1" y1="235.2" x2="576.7" y2="235.2" stroke="#5A8F32" stroke-width="2.0" />
<text x="583.7" y="238.8" font-size="9.8" stroke="#222" stroke-width="0.22" fill="#222" textLength="32.3" lengthAdjust="spacingAndGlyphs">pH 7.26</text>
<line x1="565.1" y1="256.2" x2="576.7" y2="256.2" stroke="#2F5597" stroke-width="2.0" />
<text x="583.7" y="256.9" font-size="9.8" stroke="#222" stroke-width="0.22" fill="#222" textLength="27.0" lengthAdjust="spacingAndGlyphs">pH 6.5</text>
<line x1="565.1" y1="276.6" x2="576.7" y2="276.6" stroke="#7030A0" stroke-width="2.0" />
<text x="583.7" y="274.6" font-size="9.8" stroke="#222" stroke-width="0.22" fill="#222" textLength="32.3" lengthAdjust="spacingAndGlyphs">pH 6.19</text>
<text x="39.2" y="416.3" font-size="15.5" stroke="#111" stroke-width="0.05" fill="#111">C</text>
<rect x="61.50" y="421.50" width="305.00" height="145.00" fill="#FBFBFB" />
<line x1="0.0" y1="421.5" x2="52.6" y2="421.5" stroke="#6E6E6E" stroke-width="1.0" />
<line x1="52.4" y1="421.5" x2="52.4" y2="470.3" stroke="#6E6E6E" stroke-width="1.0" />
<rect x="54.50" y="421.50" width="5.30" height="145.00" fill="#F4F4F4" stroke="#6E6E6E" stroke-width="0.9" />
<line x1="61.5" y1="421.5" x2="366.4" y2="421.5" stroke="#9A9A9A" stroke-width="1.0" />
<line x1="61.8" y1="421.5" x2="61.8" y2="566.5" stroke="#C8C8C8" stroke-width="1.0" />
<line x1="366.4" y1="421.5" x2="366.4" y2="470.3" stroke="#BDBDBD" stroke-width="0.8" />
<rect x="62.00" y="427.80" width="40.90" height="4.00" fill="#000" />
<rect x="102.90" y="427.80" width="7.70" height="4.00" fill="#fff" />
<rect x="110.60" y="427.80" width="26.60" height="4.00" fill="#A8A8A8" />
<rect x="137.20" y="427.80" width="17.10" height="4.00" fill="#fff" />
<rect x="154.30" y="427.80" width="8.20" height="4.00" fill="#A8A8A8" />
<rect x="162.50" y="427.80" width="25.60" height="4.00" fill="#fff" />
<rect x="188.10" y="427.80" width="18.70" height="4.00" fill="#A8A8A8" />
<rect x="206.80" y="427.80" width="17.50" height="4.00" fill="#fff" />
<rect x="224.30" y="427.80" width="28.40" height="4.00" fill="#000" />
<rect x="252.70" y="427.80" width="14.40" height="4.00" fill="#fff" />
<rect x="267.10" y="427.80" width="9.70" height="4.00" fill="#6A6A6A" />
<rect x="276.80" y="427.80" width="25.70" height="4.00" fill="#fff" />
<rect x="302.50" y="427.80" width="25.80" height="4.00" fill="#000" />
<rect x="328.30" y="427.80" width="6.70" height="4.00" fill="#fff" />
<rect x="335.00" y="427.80" width="23.70" height="4.00" fill="#A8A8A8" />
<rect x="358.70" y="427.80" width="7.70" height="4.00" fill="#fff" />
<rect x="62.00" y="427.80" width="304.40" height="4.00" fill="none" stroke="#555" stroke-width="0.6" />
<rect x="182.40" y="427.30" width="1.60" height="5.00" fill="#FF0000" />
<text x="81.9" y="436.0" font-size="4.2" stroke="#333" stroke-width="0.22" text-anchor="middle" font-weight="bold" fill="#333">qA1</text>
<text x="106.4" y="436.0" font-size="4.2" stroke="#333" stroke-width="0.22" text-anchor="middle" font-weight="bold" fill="#333">qA2</text>
<text x="123.9" y="436.0" font-size="4.2" stroke="#333" stroke-width="0.22" text-anchor="middle" font-weight="bold" fill="#333">qA3</text>
<text x="144.9" y="436.0" font-size="4.2" stroke="#333" stroke-width="0.22" text-anchor="middle" font-weight="bold" fill="#333">qB1</text>
<text x="175.3" y="436.0" font-size="4.2" stroke="#333" stroke-width="0.22" text-anchor="middle" font-weight="bold" fill="#333">qB3</text>
<text x="197.5" y="436.0" font-size="4.2" stroke="#333" stroke-width="0.22" text-anchor="middle" font-weight="bold" fill="#333">qB4</text>
<text x="214.6" y="436.0" font-size="4.2" stroke="#333" stroke-width="0.22" text-anchor="middle" font-weight="bold" fill="#333">qB5</text>
<text x="237.5" y="436.0" font-size="4.2" stroke="#333" stroke-width="0.22" text-anchor="middle" font-weight="bold" fill="#333">qC</text>
<text x="259.9" y="436.0" font-size="4.2" stroke="#333" stroke-width="0.22" text-anchor="middle" font-weight="bold" fill="#333">qD1</text>
<text x="289.3" y="436.0" font-size="4.2" stroke="#333" stroke-width="0.22" text-anchor="middle" font-weight="bold" fill="#333">qD3</text>
<text x="315.8" y="436.0" font-size="4.2" stroke="#333" stroke-width="0.22" text-anchor="middle" font-weight="bold" fill="#333">qE1</text>
<text x="331.4" y="436.0" font-size="4.2" stroke="#333" stroke-width="0.22" text-anchor="middle" font-weight="bold" fill="#333">qE2</text>
<text x="346.6" y="436.0" font-size="4.2" stroke="#333" stroke-width="0.22" text-anchor="middle" font-weight="bold" fill="#333">qE3</text>
<text x="365.2" y="436.0" font-size="4.2" stroke="#333" stroke-width="0.22" text-anchor="middle" font-weight="bold" fill="#333">q</text>
<text x="63.0" y="425.6" font-size="4.6" stroke="#222" stroke-width="0.22" font-weight="bold" fill="#222">chr7</text>
<line x1="62.0" y1="441.2" x2="366.4" y2="441.2" stroke="#E4E4E4" stroke-width="0.8" />
<line x1="63.5" y1="450.8" x2="240.5" y2="450.8" stroke="#9A9A9A" stroke-width="0.9" />
<line x1="270.0" y1="450.8" x2="366.4" y2="450.8" stroke="#9A9A9A" stroke-width="0.9" />
<path d="M62.5,450.8 L65.5,449.5 L65.5,452.1 Z" fill="#333"/>
<text x="255.1" y="453.0" font-size="5.8" stroke="#333" stroke-width="0.22" text-anchor="middle" font-weight="bold" fill="#333" textLength="20.5" lengthAdjust="spacingAndGlyphs">6,665 bp</text>
<text x="62.0" y="460.6" font-size="4.6" stroke="#333" stroke-width="0.22" fill="#333">bp</text>
<text x="114.6" y="460.6" font-size="4.4" stroke="#333" stroke-width="0.22" text-anchor="middle" fill="#333" textLength="22.0" lengthAdjust="spacingAndGlyphs">45,417,000 bp</text>
<text x="173.0" y="460.6" font-size="4.4" stroke="#333" stroke-width="0.22" text-anchor="middle" fill="#333" textLength="22.0" lengthAdjust="spacingAndGlyphs">45,418,000 bp</text>
<text x="231.0" y="460.6" font-size="4.4" stroke="#333" stroke-width="0.22" text-anchor="middle" fill="#333" textLength="22.0" lengthAdjust="spacingAndGlyphs">45,419,000 bp</text>
<text x="289.3" y="460.6" font-size="4.4" stroke="#333" stroke-width="0.22" text-anchor="middle" fill="#333" textLength="22.0" lengthAdjust="spacingAndGlyphs">45,420,000 bp</text>
<text x="347.1" y="460.6" font-size="4.4" stroke="#333" stroke-width="0.22" text-anchor="middle" fill="#333" textLength="22.0" lengthAdjust="spacingAndGlyphs">45,421,000 bp</text>
<line x1="86.1" y1="462.3" x2="86.1" y2="466.0" stroke="#666" stroke-width="0.8" />
<line x1="114.6" y1="462.3" x2="114.6" y2="466.0" stroke="#666" stroke-width="0.8" />
<line x1="143.8" y1="462.3" x2="143.8" y2="466.0" stroke="#666" stroke-width="0.8" />
<line x1="173.0" y1="462.3" x2="173.0" y2="466.0" stroke="#666" stroke-width="0.8" />
<line x1="202.2" y1="462.3" x2="202.2" y2="466.0" stroke="#666" stroke-width="0.8" />
<line x1="231.0" y1="462.3" x2="231.0" y2="466.0" stroke="#666" stroke-width="0.8" />
<line x1="260.9" y1="462.3" x2="260.9" y2="466.0" stroke="#666" stroke-width="0.8" />
<line x1="289.3" y1="462.3" x2="289.3" y2="466.0" stroke="#666" stroke-width="0.8" />
<line x1="318.7" y1="462.3" x2="318.7" y2="466.0" stroke="#666" stroke-width="0.8" />
<line x1="347.6" y1="462.3" x2="347.6" y2="466.0" stroke="#666" stroke-width="0.8" />
<line x1="62.0" y1="466.0" x2="366.4" y2="466.0" stroke="#777" stroke-width="0.9" />
<line x1="0.0" y1="470.3" x2="366.4" y2="470.3" stroke="#4A4A4A" stroke-width="1.4" />
<line x1="62.0" y1="486.2" x2="366.4" y2="486.2" stroke="#DCDCDC" stroke-width="0.8" />
<line x1="62.0" y1="501.8" x2="366.4" y2="501.8" stroke="#DCDCDC" stroke-width="0.8" />
<line x1="62.0" y1="516.8" x2="366.4" y2="516.8" stroke="#DCDCDC" stroke-width="0.8" />
<line x1="62.0" y1="532.3" x2="366.4" y2="532.3" stroke="#DCDCDC" stroke-width="0.8" />
<line x1="62.0" y1="547.5" x2="366.4" y2="547.5" stroke="#DCDCDC" stroke-width="0.8" />
<text x="3.8" y="478.3" font-size="8.6" stroke="#111" stroke-width="0.22" font-weight="bold" fill="#111" textLength="14.2" lengthAdjust="spacingAndGlyphs">Skin</text>
<text x="49.7" y="485.5" font-size="8.4" stroke="#222" stroke-width="0.22" text-anchor="end" fill="#222" textLength="27.9" lengthAdjust="spacingAndGlyphs">Forward</text>
<text x="49.7" y="498.4" font-size="8.4" stroke="#D4122A" stroke-width="0.22" text-anchor="end" fill="#D4122A" textLength="45.5" lengthAdjust="spacingAndGlyphs">Forward+PDS</text>
<text x="49.7" y="511.7" font-size="8.4" stroke="#222" stroke-width="0.22" text-anchor="end" fill="#222" textLength="26.0" lengthAdjust="spacingAndGlyphs">Reverse</text>
<text x="49.7" y="524.6" font-size="8.4" stroke="#D4122A" stroke-width="0.22" text-anchor="end" fill="#D4122A" textLength="43.1" lengthAdjust="spacingAndGlyphs">Reverse+PDS</text>
<line x1="4.2" y1="531.6" x2="49.7" y2="531.6" stroke="#666" stroke-width="0.8" stroke-dasharray="1.2,0.9"/>
<text x="3.8" y="543.2" font-size="8.6" stroke="#111" stroke-width="0.22" font-weight="bold" fill="#111" textLength="22.2" lengthAdjust="spacingAndGlyphs">mESCs</text>
<text x="49.7" y="545.2" font-size="8.4" stroke="#222" stroke-width="0.22" text-anchor="end" fill="#222" textLength="18.0" lengthAdjust="spacingAndGlyphs">Mock</text>
<text x="49.7" y="558.1" font-size="8.4" stroke="#D4122A" stroke-width="0.22" text-anchor="end" fill="#D4122A" textLength="12.7" lengthAdjust="spacingAndGlyphs">PDS</text>
<text transform="translate(58.4,451.6) rotate(-90)" font-size="4.0" stroke="#333" stroke-width="0.22" text-anchor="middle" fill="#333" textLength="34.0" lengthAdjust="spacingAndGlyphs">ALPHABETICAL GROUP</text>
<rect x="55.10" y="532.40" width="3.70" height="29.40" fill="#0B3C8C" />
<line x1="55.1" y1="547.6" x2="58.8" y2="547.6" stroke="#9FB3D6" stroke-width="0.6" />
<rect x="55.10" y="561.80" width="3.70" height="4.40" fill="#fff" />
<rect x="262.80" y="474.00" width="6.00" height="3.20" fill="#6B6B6B" />
<text x="265.7" y="485.0" font-size="4.6" stroke="#444" stroke-width="0.22" text-anchor="middle" fill="#444">31.8</text>
<rect x="100.50" y="489.10" width="5.90" height="3.50" fill="#F0163C" />
<rect x="203.80" y="489.10" width="10.80" height="3.50" fill="#F0163C" />
<rect x="246.40" y="489.10" width="7.30" height="3.50" fill="#F0163C" />
<rect x="260.40" y="489.10" width="4.30" height="3.50" fill="#F0163C" />
<rect x="265.90" y="489.10" width="7.70" height="3.50" fill="#F0163C" />
<rect x="348.30" y="489.10" width="9.60" height="3.50" fill="#F0163C" />
<text x="103.6" y="500.5" font-size="4.6" stroke="#444" stroke-width="0.22" text-anchor="middle" fill="#444">35.8</text>
<text x="209.3" y="500.5" font-size="4.6" stroke="#444" stroke-width="0.22" text-anchor="middle" fill="#444">48.3</text>
<text x="250.0" y="500.5" font-size="4.6" stroke="#444" stroke-width="0.22" text-anchor="middle" fill="#444">43.0</text>
<text x="269.5" y="500.5" font-size="4.6" stroke="#444" stroke-width="0.22" text-anchor="middle" fill="#444">52.3</text>
<text x="353.1" y="500.5" font-size="4.6" stroke="#444" stroke-width="0.22" text-anchor="middle" fill="#444">58.3</text>
<rect x="132.10" y="504.20" width="2.80" height="3.50" fill="#6B6B6B" />
<rect x="156.60" y="504.20" width="11.70" height="3.50" fill="#6B6B6B" />
<text x="133.7" y="515.7" font-size="4.6" stroke="#444" stroke-width="0.22" text-anchor="middle" fill="#444">60.9</text>
<text x="162.0" y="515.7" font-size="4.6" stroke="#444" stroke-width="0.22" text-anchor="middle" fill="#444">50.8</text>
<rect x="126.90" y="519.50" width="5.70" height="3.60" fill="#F0163C" />
<rect x="153.10" y="519.50" width="8.90" height="3.60" fill="#F0163C" />
<rect x="162.90" y="519.50" width="9.40" height="3.60" fill="#F0163C" />
<rect x="174.80" y="519.50" width="15.20" height="3.60" fill="#F0163C" />
<rect x="230.80" y="519.50" width="7.90" height="3.60" fill="#F0163C" />
<rect x="282.10" y="519.50" width="17.60" height="3.60" fill="#F0163C" />
<rect x="305.00" y="519.50" width="7.20" height="3.60" fill="#F0163C" />
<text x="129.7" y="530.8" font-size="4.6" stroke="#444" stroke-width="0.22" text-anchor="middle" fill="#444">39.6</text>
<text x="157.8" y="530.8" font-size="4.6" stroke="#444" stroke-width="0.22" text-anchor="middle" fill="#444">42.6</text>
<text x="182.3" y="530.8" font-size="4.6" stroke="#444" stroke-width="0.22" text-anchor="middle" fill="#444">53.9</text>
<text x="234.6" y="530.8" font-size="4.6" stroke="#444" stroke-width="0.22" text-anchor="middle" fill="#444">66.9</text>
<text x="291.0" y="530.8" font-size="4.6" stroke="#444" stroke-width="0.22" text-anchor="middle" fill="#444">53.0</text>
<text x="308.6" y="530.8" font-size="4.6" stroke="#444" stroke-width="0.22" text-anchor="middle" fill="#444">47.0</text>
<text x="63.8" y="536.6" font-size="3.8" stroke="#333" stroke-width="0.22" fill="#333">[0-4]</text>
<text x="63.8" y="551.8" font-size="3.8" stroke="#333" stroke-width="0.22" fill="#333">[0-4]</text>
<rect x="125.10" y="544.40" width="7.50" height="2.40" fill="#666" />
<rect x="255.60" y="545.60" width="22.90" height="1.20" fill="#666" />
<rect x="285.20" y="544.90" width="9.80" height="1.90" fill="#666" />
<rect x="295.00" y="544.00" width="16.00" height="2.80" fill="#666" />
<rect x="313.90" y="542.50" width="6.10" height="4.30" fill="#666" />
<rect x="320.00" y="540.50" width="6.00" height="6.30" fill="#666" />
<rect x="326.00" y="538.80" width="6.00" height="8.00" fill="#666" />
<rect x="332.00" y="541.50" width="5.00" height="5.30" fill="#666" />
<rect x="364.60" y="545.20" width="1.40" height="1.60" fill="#666" />
<line x1="62.0" y1="561.9" x2="366.4" y2="561.9" stroke="#BDBDBD" stroke-width="0.6" />
<rect x="62.00" y="560.80" width="3.50" height="1.50" fill="#F0163C" />
<rect x="65.50" y="558.80" width="3.00" height="3.50" fill="#F0163C" />
<rect x="68.50" y="557.90" width="7.00" height="4.40" fill="#F0163C" />
<rect x="75.50" y="559.00" width="4.00" height="3.30" fill="#F0163C" />
<rect x="83.50" y="560.50" width="3.00" height="1.80" fill="#F0163C" />
<rect x="96.60" y="560.70" width="22.60" height="1.60" fill="#F0163C" />
<rect x="125.10" y="559.50" width="7.00" height="2.80" fill="#F0163C" />
<rect x="152.60" y="559.50" width="11.00" height="2.80" fill="#F0163C" />
<rect x="173.00" y="559.80" width="7.00" height="2.50" fill="#F0163C" />
<rect x="180.00" y="557.20" width="6.00" height="5.10" fill="#F0163C" />
<rect x="186.00" y="558.80" width="6.80" height="3.50" fill="#F0163C" />
<rect x="195.20" y="560.30" width="3.80" height="2.00" fill="#F0163C" />
<rect x="199.00" y="558.40" width="6.00" height="3.90" fill="#F0163C" />
<rect x="205.00" y="558.10" width="6.00" height="4.20" fill="#F0163C" />
<rect x="211.00" y="561.00" width="7.20" height="1.30" fill="#F0163C" />
<rect x="218.20" y="557.00" width="3.80" height="5.30" fill="#F0163C" />
<rect x="222.00" y="552.60" width="6.00" height="9.70" fill="#F0163C" />
<rect x="228.00" y="554.50" width="5.00" height="7.80" fill="#F0163C" />
<rect x="233.00" y="557.30" width="5.70" height="5.00" fill="#F0163C" />
<rect x="238.70" y="561.00" width="22.90" height="1.30" fill="#F0163C" />
<rect x="270.00" y="556.40" width="9.70" height="5.90" fill="#F0163C" />
<rect x="282.00" y="557.50" width="6.00" height="4.80" fill="#F0163C" />
<rect x="288.00" y="553.80" width="4.00" height="8.50" fill="#F0163C" />
<rect x="292.00" y="550.20" width="6.00" height="12.10" fill="#F0163C" />
<rect x="298.00" y="553.50" width="5.00" height="8.80" fill="#F0163C" />
<rect x="303.00" y="558.80" width="4.00" height="3.50" fill="#F0163C" />
<rect x="307.00" y="553.80" width="6.00" height="8.50" fill="#F0163C" />
<rect x="313.00" y="556.50" width="5.00" height="5.80" fill="#F0163C" />
<rect x="318.00" y="558.30" width="5.00" height="4.00" fill="#F0163C" />
<rect x="330.20" y="557.50" width="7.80" height="4.80" fill="#F0163C" />
<rect x="338.00" y="554.00" width="7.00" height="8.30" fill="#F0163C" />
<rect x="345.00" y="557.50" width="6.90" height="4.80" fill="#F0163C" />
<rect x="351.90" y="561.00" width="12.10" height="1.30" fill="#F0163C" />
<rect x="364.00" y="558.10" width="2.00" height="4.20" fill="#F0163C" />
<line x1="0.0" y1="566.9" x2="366.4" y2="566.9" stroke="#A9A9A9" stroke-width="1.8" />
<line x1="61.7" y1="574.3" x2="125.2" y2="574.3" stroke="#1010B4" stroke-width="2.1" />
<text x="64.5" y="583.3" font-size="7.4" stroke="#2040C8" stroke-width="0.22" font-style="italic" fill="#2040C8" textLength="14.8" lengthAdjust="spacingAndGlyphs">Ntf5</text>
<line x1="177.4" y1="574.3" x2="317.5" y2="574.3" stroke="#4848D0" stroke-width="0.7" />
<rect x="177.40" y="572.50" width="25.60" height="3.70" fill="#1010B4" />
<rect x="180.00" y="574.10" width="0.80" height="0.50" fill="#8A8AE0" />
<rect x="185.00" y="574.10" width="0.80" height="0.50" fill="#8A8AE0" />
<rect x="190.00" y="574.10" width="0.80" height="0.50" fill="#8A8AE0" />
<rect x="195.00" y="574.10" width="0.80" height="0.50" fill="#8A8AE0" />
<rect x="200.00" y="574.10" width="0.80" height="0.50" fill="#8A8AE0" />
<rect x="214.00" y="572.50" width="9.90" height="3.70" fill="#1010B4" />
<rect x="217.00" y="574.10" width="0.80" height="0.50" fill="#8A8AE0" />
<rect x="229.20" y="572.50" width="10.00" height="3.70" fill="#1010B4" />
<rect x="232.00" y="574.10" width="0.80" height="0.50" fill="#8A8AE0" />
<rect x="237.00" y="574.10" width="0.80" height="0.50" fill="#8A8AE0" />
<rect x="271.90" y="572.50" width="7.10" height="3.70" fill="#1010B4" />
<rect x="274.00" y="574.10" width="0.80" height="0.50" fill="#8A8AE0" />
<rect x="291.30" y="572.50" width="18.80" height="3.70" fill="#1010B4" />
<rect x="294.00" y="574.10" width="0.80" height="0.50" fill="#8A8AE0" />
<rect x="299.00" y="574.10" width="0.80" height="0.50" fill="#8A8AE0" />
<rect x="304.00" y="574.10" width="0.80" height="0.50" fill="#8A8AE0" />
<rect x="310.10" y="573.30" width="7.40" height="2.10" fill="#1010B4" />
<text x="176.0" y="583.0" font-size="7.4" stroke="#2040C8" stroke-width="0.22" font-style="italic" fill="#2040C8" textLength="33.6" lengthAdjust="spacingAndGlyphs">Ac151602</text>
<line x1="345.1" y1="574.3" x2="359.8" y2="574.3" stroke="#4848D0" stroke-width="0.7" />
<line x1="345.3" y1="572.8" x2="345.3" y2="575.8" stroke="#1010B4" stroke-width="0.8" />
<rect x="359.80" y="572.50" width="5.50" height="3.70" fill="#1010B4" />
<text x="346.1" y="583.2" font-size="7.4" stroke="#2040C8" stroke-width="0.22" font-style="italic" fill="#2040C8" textLength="12.2" lengthAdjust="spacingAndGlyphs">Lhb</text>
<path d="M133.2,574.2 L143.2,591.3 L123.7,591.3 Z" fill="#000"/>
<text x="378.6" y="417.2" font-size="14.6" stroke="#111" stroke-width="0.05" fill="#111">D</text>
<text x="430.7" y="411.8" font-size="12.5" stroke="#000" stroke-width="0.22" font-weight="bold" fill="#000" textLength="54.9" lengthAdjust="spacingAndGlyphs">ChIP BG4</text>
<line x1="423.0" y1="431.2" x2="423.0" y2="539.6" stroke="#A6A6A6" stroke-width="1.4" />
<line x1="419.8" y1="539.6" x2="423.0" y2="539.6" stroke="#595959" stroke-width="1.0" />
<text x="414.4" y="542.7" font-size="9.3" stroke="#262626" stroke-width="0.22" text-anchor="end" textLength="16.8" lengthAdjust="spacingAndGlyphs">0.00</text>
<line x1="419.8" y1="526.1" x2="423.0" y2="526.1" stroke="#595959" stroke-width="1.0" />
<text x="414.4" y="529.2" font-size="9.3" stroke="#262626" stroke-width="0.22" text-anchor="end" textLength="16.8" lengthAdjust="spacingAndGlyphs">0.01</text>
<line x1="419.8" y1="512.5" x2="423.0" y2="512.5" stroke="#595959" stroke-width="1.0" />
<text x="414.4" y="515.6" font-size="9.3" stroke="#262626" stroke-width="0.22" text-anchor="end" textLength="16.8" lengthAdjust="spacingAndGlyphs">0.02</text>
<line x1="419.8" y1="499.0" x2="423.0" y2="499.0" stroke="#595959" stroke-width="1.0" />
<text x="414.4" y="502.1" font-size="9.3" stroke="#262626" stroke-width="0.22" text-anchor="end" textLength="16.8" lengthAdjust="spacingAndGlyphs">0.03</text>
<line x1="419.8" y1="485.4" x2="423.0" y2="485.4" stroke="#595959" stroke-width="1.0" />
<text x="414.4" y="488.5" font-size="9.3" stroke="#262626" stroke-width="0.22" text-anchor="end" textLength="16.8" lengthAdjust="spacingAndGlyphs">0.04</text>
<line x1="419.8" y1="471.9" x2="423.0" y2="471.9" stroke="#595959" stroke-width="1.0" />
<text x="414.4" y="475.0" font-size="9.3" stroke="#262626" stroke-width="0.22" text-anchor="end" textLength="16.8" lengthAdjust="spacingAndGlyphs">0.05</text>
<line x1="419.8" y1="458.3" x2="423.0" y2="458.3" stroke="#595959" stroke-width="1.0" />
<text x="414.4" y="461.4" font-size="9.3" stroke="#262626" stroke-width="0.22" text-anchor="end" textLength="16.8" lengthAdjust="spacingAndGlyphs">0.06</text>
<line x1="419.8" y1="444.8" x2="423.0" y2="444.8" stroke="#595959" stroke-width="1.0" />
<text x="414.4" y="447.9" font-size="9.3" stroke="#262626" stroke-width="0.22" text-anchor="end" textLength="16.8" lengthAdjust="spacingAndGlyphs">0.07</text>
<line x1="419.8" y1="431.2" x2="423.0" y2="431.2" stroke="#595959" stroke-width="1.0" />
<text x="414.4" y="434.3" font-size="9.3" stroke="#262626" stroke-width="0.22" text-anchor="end" textLength="16.8" lengthAdjust="spacingAndGlyphs">0.08</text>
<line x1="423.0" y1="539.6" x2="678.2" y2="539.6" stroke="#A6A6A6" stroke-width="1.2" />
<text transform="translate(389.0,487.8) rotate(-90)" font-size="8.8" stroke="#262626" stroke-width="0.22" text-anchor="middle" textLength="32.0" lengthAdjust="spacingAndGlyphs">Ip/input</text>
<rect x="431.20" y="429.30" width="5.30" height="5.00" fill="#4472C4" stroke="#2F528F" stroke-width="0.7" />
<text x="439.6" y="434.9" font-size="9.4" stroke="#262626" stroke-width="0.22" textLength="28.5" lengthAdjust="spacingAndGlyphs">NT IgG</text>
<rect x="488.70" y="429.30" width="5.30" height="5.00" fill="#ED7D31" stroke="#AE5A21" stroke-width="0.7" />
<text x="497.1" y="434.9" font-size="9.4" stroke="#262626" stroke-width="0.22" textLength="31.5" lengthAdjust="spacingAndGlyphs">NT BG4</text>
<rect x="431.20" y="449.10" width="5.30" height="5.00" fill="#A5A5A5" stroke="#6E6E6E" stroke-width="0.7" />
<text x="439.6" y="454.7" font-size="9.4" stroke="#262626" stroke-width="0.22" textLength="41.4" lengthAdjust="spacingAndGlyphs">GnRH IgG</text>
<rect x="488.70" y="449.10" width="5.30" height="5.00" fill="#FFC000" stroke="#A07800" stroke-width="0.7" />
<text x="497.1" y="454.7" font-size="9.4" stroke="#262626" stroke-width="0.22" textLength="44.4" lengthAdjust="spacingAndGlyphs">GnRH BG4</text>
<rect x="431.20" y="538.80" width="7.60" height="0.80" fill="#4472C4" stroke="#2F528F" stroke-width="0.8"/>
<rect x="440.20" y="522.70" width="7.60" height="16.90" fill="#ED7D31" stroke="#AE5A21" stroke-width="0.8"/>
<rect x="449.40" y="538.60" width="7.60" height="1.00" fill="#A5A5A5" stroke="#6E6E6E" stroke-width="0.8"/>
<rect x="458.50" y="524.40" width="7.60" height="15.20" fill="#FFC000" stroke="#A07800" stroke-width="0.8"/>
<line x1="444.0" y1="518.1" x2="444.0" y2="527.4" stroke="#505050" stroke-width="0.7" />
<line x1="442.6" y1="518.1" x2="445.4" y2="518.1" stroke="#505050" stroke-width="0.7" />
<line x1="442.6" y1="527.4" x2="445.4" y2="527.4" stroke="#505050" stroke-width="0.7" />
<line x1="462.3" y1="522.0" x2="462.3" y2="526.7" stroke="#505050" stroke-width="0.7" />
<line x1="460.9" y1="522.0" x2="463.7" y2="522.0" stroke="#505050" stroke-width="0.7" />
<line x1="460.9" y1="526.7" x2="463.7" y2="526.7" stroke="#505050" stroke-width="0.7" />
<rect x="482.15" y="536.80" width="7.60" height="2.80" fill="#4472C4" stroke="#2F528F" stroke-width="0.8"/>
<rect x="491.15" y="518.10" width="7.60" height="21.50" fill="#ED7D31" stroke="#AE5A21" stroke-width="0.8"/>
<rect x="500.35" y="534.90" width="7.60" height="4.70" fill="#A5A5A5" stroke="#6E6E6E" stroke-width="0.8"/>
<rect x="509.45" y="491.20" width="7.60" height="48.40" fill="#FFC000" stroke="#A07800" stroke-width="0.8"/>
<line x1="485.9" y1="535.8" x2="485.9" y2="537.8" stroke="#505050" stroke-width="0.7" />
<line x1="484.6" y1="535.8" x2="487.3" y2="535.8" stroke="#505050" stroke-width="0.7" />
<line x1="484.6" y1="537.8" x2="487.3" y2="537.8" stroke="#505050" stroke-width="0.7" />
<line x1="494.9" y1="516.2" x2="494.9" y2="520.2" stroke="#505050" stroke-width="0.7" />
<line x1="493.6" y1="516.2" x2="496.3" y2="516.2" stroke="#505050" stroke-width="0.7" />
<line x1="493.6" y1="520.2" x2="496.3" y2="520.2" stroke="#505050" stroke-width="0.7" />
<line x1="504.1" y1="533.8" x2="504.1" y2="536.0" stroke="#505050" stroke-width="0.7" />
<line x1="502.8" y1="533.8" x2="505.5" y2="533.8" stroke="#505050" stroke-width="0.7" />
<line x1="502.8" y1="536.0" x2="505.5" y2="536.0" stroke="#505050" stroke-width="0.7" />
<line x1="513.2" y1="484.0" x2="513.2" y2="498.7" stroke="#505050" stroke-width="0.7" />
<line x1="511.9" y1="484.0" x2="514.6" y2="484.0" stroke="#505050" stroke-width="0.7" />
<line x1="511.9" y1="498.7" x2="514.6" y2="498.7" stroke="#505050" stroke-width="0.7" />
<rect x="533.10" y="537.30" width="7.60" height="2.30" fill="#4472C4" stroke="#2F528F" stroke-width="0.8"/>
<rect x="542.10" y="489.30" width="7.60" height="50.30" fill="#ED7D31" stroke="#AE5A21" stroke-width="0.8"/>
<rect x="551.30" y="537.30" width="7.60" height="2.30" fill="#A5A5A5" stroke="#6E6E6E" stroke-width="0.8"/>
<rect x="560.40" y="458.30" width="7.60" height="81.30" fill="#FFC000" stroke="#A07800" stroke-width="0.8"/>
<line x1="545.9" y1="485.3" x2="545.9" y2="493.0" stroke="#505050" stroke-width="0.7" />
<line x1="544.5" y1="485.3" x2="547.3" y2="485.3" stroke="#505050" stroke-width="0.7" />
<line x1="544.5" y1="493.0" x2="547.3" y2="493.0" stroke="#505050" stroke-width="0.7" />
<line x1="564.2" y1="438.4" x2="564.2" y2="478.8" stroke="#505050" stroke-width="0.7" />
<line x1="562.8" y1="438.4" x2="565.6" y2="438.4" stroke="#505050" stroke-width="0.7" />
<line x1="562.8" y1="478.8" x2="565.6" y2="478.8" stroke="#505050" stroke-width="0.7" />
<rect x="584.05" y="534.90" width="7.60" height="4.70" fill="#4472C4" stroke="#2F528F" stroke-width="0.8"/>
<rect x="593.05" y="509.40" width="7.60" height="30.20" fill="#ED7D31" stroke="#AE5A21" stroke-width="0.8"/>
<rect x="602.25" y="536.60" width="7.60" height="3.00" fill="#A5A5A5" stroke="#6E6E6E" stroke-width="0.8"/>
<rect x="611.35" y="492.10" width="7.60" height="47.50" fill="#FFC000" stroke="#A07800" stroke-width="0.8"/>
<line x1="587.8" y1="531.8" x2="587.8" y2="538.0" stroke="#505050" stroke-width="0.7" />
<line x1="586.4" y1="531.8" x2="589.2" y2="531.8" stroke="#505050" stroke-width="0.7" />
<line x1="586.4" y1="538.0" x2="589.2" y2="538.0" stroke="#505050" stroke-width="0.7" />
<line x1="596.8" y1="508.8" x2="596.8" y2="510.0" stroke="#505050" stroke-width="0.7" />
<line x1="595.4" y1="508.8" x2="598.2" y2="508.8" stroke="#505050" stroke-width="0.7" />
<line x1="595.4" y1="510.0" x2="598.2" y2="510.0" stroke="#505050" stroke-width="0.7" />
<line x1="615.1" y1="487.2" x2="615.1" y2="496.4" stroke="#505050" stroke-width="0.7" />
<line x1="613.7" y1="487.2" x2="616.5" y2="487.2" stroke="#505050" stroke-width="0.7" />
<line x1="613.7" y1="496.4" x2="616.5" y2="496.4" stroke="#505050" stroke-width="0.7" />
<rect x="635.00" y="538.30" width="7.60" height="1.30" fill="#4472C4" stroke="#2F528F" stroke-width="0.8"/>
<rect x="644.00" y="534.20" width="7.60" height="5.40" fill="#ED7D31" stroke="#AE5A21" stroke-width="0.8"/>
<rect x="653.20" y="537.30" width="7.60" height="2.30" fill="#A5A5A5" stroke="#6E6E6E" stroke-width="0.8"/>
<rect x="662.30" y="533.00" width="7.60" height="6.60" fill="#FFC000" stroke="#A07800" stroke-width="0.8"/>
<line x1="647.8" y1="532.0" x2="647.8" y2="536.0" stroke="#505050" stroke-width="0.7" />
<line x1="646.4" y1="532.0" x2="649.2" y2="532.0" stroke="#505050" stroke-width="0.7" />
<line x1="646.4" y1="536.0" x2="649.2" y2="536.0" stroke="#505050" stroke-width="0.7" />
<line x1="657.0" y1="536.0" x2="657.0" y2="538.5" stroke="#505050" stroke-width="0.7" />
<line x1="655.6" y1="536.0" x2="658.4" y2="536.0" stroke="#505050" stroke-width="0.7" />
<line x1="655.6" y1="538.5" x2="658.4" y2="538.5" stroke="#505050" stroke-width="0.7" />
<line x1="666.1" y1="530.5" x2="666.1" y2="535.5" stroke="#505050" stroke-width="0.7" />
<line x1="664.7" y1="530.5" x2="667.5" y2="530.5" stroke="#505050" stroke-width="0.7" />
<line x1="664.7" y1="535.5" x2="667.5" y2="535.5" stroke="#505050" stroke-width="0.7" />
<text x="443.8" y="513.3" font-size="10.0" text-anchor="middle" fill="#E2741F">B</text>
<text x="494.5" y="498.8" font-size="10.0" text-anchor="middle" fill="#E2741F">B</text>
<text x="494.5" y="511.6" font-size="10.0" text-anchor="middle" fill="#E2741F">C</text>
<text x="546.0" y="476.9" font-size="10.0" text-anchor="middle" fill="#E2741F">D</text>
<text x="596.6" y="502.1" font-size="10.0" text-anchor="middle" fill="#E2741F">C</text>
<text x="647.6" y="529.4" font-size="10.0" text-anchor="middle" fill="#E2741F">A</text>
<text x="513.0" y="478.5" font-size="11.5" stroke="#E2741F" stroke-width="0.1" text-anchor="middle" fill="#E2741F">*</text>
<text x="615.1" y="480.9" font-size="11.5" stroke="#E2741F" stroke-width="0.1" text-anchor="middle" fill="#E2741F">*</text>
<text transform="translate(450.3,551.4) rotate(-45)" font-size="7.9" text-anchor="end" fill="#262626">(-3705)-(-3567)</text>
<text transform="translate(501.2,551.4) rotate(-45)" font-size="7.9" text-anchor="end" fill="#262626">(-2802)-(-2633)</text>
<text transform="translate(552.2,551.4) rotate(-45)" font-size="7.9" text-anchor="end" fill="#262626">(-2432)-(-2196)</text>
<text transform="translate(603.1,551.4) rotate(-45)" font-size="7.9" text-anchor="end" fill="#262626">Cga intron</text>
<text transform="translate(654.1,551.4) rotate(-45)" font-size="7.9" text-anchor="end" fill="#262626">negative control</text>
<text x="434.5" y="604.6" font-size="8.8" stroke="#262626" stroke-width="0.22" textLength="103.7" lengthAdjust="spacingAndGlyphs">Distance (bp) from <tspan font-style="italic">Lhb</tspan> TSS</text>
<text x="34.3" y="626.8" font-size="15.0" stroke="#111" stroke-width="0.05" fill="#111">E</text>
<text x="104.1" y="638.1" font-size="13.0" stroke="#000" stroke-width="0.22" font-weight="bold" fill="#000" textLength="61.7" lengthAdjust="spacingAndGlyphs">ChIP iMab</text>
<line x1="99.9" y1="648.4" x2="99.9" y2="754.2" stroke="#BDBDBD" stroke-width="1.7" />
<line x1="96.4" y1="754.2" x2="99.9" y2="754.2" stroke="#404040" stroke-width="1.0" />
<text x="91.2" y="757.1" font-size="9.3" stroke="#262626" stroke-width="0.22" text-anchor="end" textLength="16.6" lengthAdjust="spacingAndGlyphs">0.00</text>
<line x1="96.4" y1="739.1" x2="99.9" y2="739.1" stroke="#404040" stroke-width="1.0" />
<text x="91.2" y="742.0" font-size="9.3" stroke="#262626" stroke-width="0.22" text-anchor="end" textLength="16.6" lengthAdjust="spacingAndGlyphs">0.02</text>
<line x1="96.4" y1="724.0" x2="99.9" y2="724.0" stroke="#404040" stroke-width="1.0" />
<text x="91.2" y="726.9" font-size="9.3" stroke="#262626" stroke-width="0.22" text-anchor="end" textLength="16.6" lengthAdjust="spacingAndGlyphs">0.04</text>
<line x1="96.4" y1="708.9" x2="99.9" y2="708.9" stroke="#404040" stroke-width="1.0" />
<text x="91.2" y="711.8" font-size="9.3" stroke="#262626" stroke-width="0.22" text-anchor="end" textLength="16.6" lengthAdjust="spacingAndGlyphs">0.06</text>
<line x1="96.4" y1="693.8" x2="99.9" y2="693.8" stroke="#404040" stroke-width="1.0" />
<text x="91.2" y="696.7" font-size="9.3" stroke="#262626" stroke-width="0.22" text-anchor="end" textLength="16.6" lengthAdjust="spacingAndGlyphs">0.08</text>
<line x1="96.4" y1="678.7" x2="99.9" y2="678.7" stroke="#404040" stroke-width="1.0" />
<text x="91.2" y="681.6" font-size="9.3" stroke="#262626" stroke-width="0.22" text-anchor="end" textLength="16.6" lengthAdjust="spacingAndGlyphs">0.10</text>
<line x1="96.4" y1="663.5" x2="99.9" y2="663.5" stroke="#404040" stroke-width="1.0" />
<text x="91.2" y="666.4" font-size="9.3" stroke="#262626" stroke-width="0.22" text-anchor="end" textLength="16.6" lengthAdjust="spacingAndGlyphs">0.12</text>
<line x1="96.4" y1="648.4" x2="99.9" y2="648.4" stroke="#404040" stroke-width="1.0" />
<text x="91.2" y="651.3" font-size="9.3" stroke="#262626" stroke-width="0.22" text-anchor="end" textLength="16.6" lengthAdjust="spacingAndGlyphs">0.14</text>
<line x1="99.9" y1="754.2" x2="326.5" y2="754.2" stroke="#595959" stroke-width="1.1" />
<text transform="translate(61.4,702.8) rotate(-90)" font-size="9.0" stroke="#262626" stroke-width="0.22" text-anchor="middle" textLength="32.0" lengthAdjust="spacingAndGlyphs">Ip/input</text>
<rect x="104.10" y="728.60" width="9.40" height="25.60" fill="#D0CECE" stroke="#595959" stroke-width="0.8"/>
<line x1="108.8" y1="726.3" x2="108.8" y2="731.3" stroke="#404040" stroke-width="0.8" />
<line x1="107.0" y1="726.3" x2="110.6" y2="726.3" stroke="#404040" stroke-width="0.8" />
<line x1="107.0" y1="731.3" x2="110.6" y2="731.3" stroke="#404040" stroke-width="0.8" />
<text transform="translate(116.5,767.0) rotate(-45)" font-size="8.1" text-anchor="end" fill="#262626">(-5228)-(-5086)</text>
<rect x="132.46" y="711.00" width="9.40" height="43.20" fill="#D0CECE" stroke="#595959" stroke-width="0.8"/>
<line x1="137.2" y1="705.2" x2="137.2" y2="716.3" stroke="#404040" stroke-width="0.8" />
<line x1="135.4" y1="705.2" x2="139.0" y2="705.2" stroke="#404040" stroke-width="0.8" />
<line x1="135.4" y1="716.3" x2="139.0" y2="716.3" stroke="#404040" stroke-width="0.8" />
<text transform="translate(144.9,767.0) rotate(-45)" font-size="8.1" text-anchor="end" fill="#262626">(-5005)-(-4796)</text>
<rect x="160.82" y="672.80" width="9.40" height="81.40" fill="#D0CECE" stroke="#595959" stroke-width="0.8"/>
<line x1="165.5" y1="664.4" x2="165.5" y2="681.0" stroke="#404040" stroke-width="0.8" />
<line x1="163.7" y1="664.4" x2="167.3" y2="664.4" stroke="#404040" stroke-width="0.8" />
<line x1="163.7" y1="681.0" x2="167.3" y2="681.0" stroke="#404040" stroke-width="0.8" />
<rect x="171.42" y="752.50" width="8.8" height="1.70" fill="#1F3A7A"/>
<text transform="translate(173.2,767.0) rotate(-45)" font-size="8.1" text-anchor="end" fill="#262626">(-3705)-(-3567)</text>
<rect x="189.18" y="724.00" width="9.40" height="30.20" fill="#D0CECE" stroke="#595959" stroke-width="0.8"/>
<line x1="193.9" y1="722.0" x2="193.9" y2="726.0" stroke="#404040" stroke-width="0.8" />
<line x1="192.1" y1="722.0" x2="195.7" y2="722.0" stroke="#404040" stroke-width="0.8" />
<line x1="192.1" y1="726.0" x2="195.7" y2="726.0" stroke="#404040" stroke-width="0.8" />
<text transform="translate(201.6,767.0) rotate(-45)" font-size="8.1" text-anchor="end" fill="#262626">(-3257)-(-3102)</text>
<rect x="217.54" y="721.20" width="9.40" height="33.00" fill="#D0CECE" stroke="#595959" stroke-width="0.8"/>
<line x1="222.2" y1="718.5" x2="222.2" y2="724.9" stroke="#404040" stroke-width="0.8" />
<line x1="220.4" y1="718.5" x2="224.0" y2="718.5" stroke="#404040" stroke-width="0.8" />
<line x1="220.4" y1="724.9" x2="224.0" y2="724.9" stroke="#404040" stroke-width="0.8" />
<rect x="228.14" y="753.40" width="8.8" height="0.80" fill="#6C7BA8"/>
<text transform="translate(229.9,767.0) rotate(-45)" font-size="8.1" text-anchor="end" fill="#262626">(-2802)-(-2633)</text>
<rect x="245.90" y="711.50" width="9.40" height="42.70" fill="#D0CECE" stroke="#595959" stroke-width="0.8"/>
<line x1="250.6" y1="707.7" x2="250.6" y2="716.5" stroke="#404040" stroke-width="0.8" />
<line x1="248.8" y1="707.7" x2="252.4" y2="707.7" stroke="#404040" stroke-width="0.8" />
<line x1="248.8" y1="716.5" x2="252.4" y2="716.5" stroke="#404040" stroke-width="0.8" />
<rect x="256.50" y="753.40" width="8.8" height="0.80" fill="#6C7BA8"/>
<text transform="translate(258.3,767.0) rotate(-45)" font-size="8.1" text-anchor="end" fill="#262626">(-2255)-(-2096)</text>
<rect x="274.26" y="718.20" width="9.40" height="36.00" fill="#D0CECE" stroke="#595959" stroke-width="0.8"/>
<line x1="279.0" y1="714.9" x2="279.0" y2="721.8" stroke="#404040" stroke-width="0.8" />
<line x1="277.2" y1="714.9" x2="280.8" y2="714.9" stroke="#404040" stroke-width="0.8" />
<line x1="277.2" y1="721.8" x2="280.8" y2="721.8" stroke="#404040" stroke-width="0.8" />
<text transform="translate(286.7,767.0) rotate(-45)" font-size="8.1" text-anchor="end" fill="#262626">(-635)-(-474)</text>
<rect x="302.62" y="717.10" width="9.40" height="37.10" fill="#D0CECE" stroke="#595959" stroke-width="0.8"/>
<line x1="307.3" y1="714.3" x2="307.3" y2="720.4" stroke="#404040" stroke-width="0.8" />
<line x1="305.5" y1="714.3" x2="309.1" y2="714.3" stroke="#404040" stroke-width="0.8" />
<line x1="305.5" y1="720.4" x2="309.1" y2="720.4" stroke="#404040" stroke-width="0.8" />
<text transform="translate(315.0,767.0) rotate(-45)" font-size="8.1" text-anchor="end" fill="#262626">(-68)-(+61)</text>
<text x="165.8" y="658.8" font-size="8.5" stroke="#333" stroke-width="0.22" text-anchor="middle" font-style="italic" fill="#333" textLength="14.0" lengthAdjust="spacingAndGlyphs">###</text>
<rect x="283.20" y="651.90" width="5.50" height="5.50" fill="#D0CECE" stroke="#595959" stroke-width="0.7" />
<text x="291.8" y="657.6" font-size="10.0" stroke="#44546A" stroke-width="0.22" fill="#44546A" textLength="21.9" lengthAdjust="spacingAndGlyphs">iMab</text>
<rect x="283.20" y="669.10" width="5.50" height="5.20" fill="#0E2A6E" />
<text x="291.8" y="674.8" font-size="10.0" stroke="#44546A" stroke-width="0.22" fill="#44546A" textLength="13.6" lengthAdjust="spacingAndGlyphs">IgG</text>
<text x="145.6" y="819.3" font-size="9.0" stroke="#262626" stroke-width="0.22" textLength="103.2" lengthAdjust="spacingAndGlyphs">Distance (bp) from <tspan font-style="italic">Lhb</tspan> TSS</text>
<text x="378.9" y="622.3" font-size="14.5" stroke="#111" stroke-width="0.05" fill="#111">F</text>
<line x1="397.8" y1="638.5" x2="397.8" y2="753.4" stroke="#BDBDBD" stroke-width="1.7" />
<line x1="394.6" y1="753.4" x2="397.8" y2="753.4" stroke="#404040" stroke-width="1.0" />
<text x="389.2" y="756.9" font-size="9.4" stroke="#262626" stroke-width="0.22" text-anchor="end" textLength="16.8" lengthAdjust="spacingAndGlyphs">0.00</text>
<line x1="394.6" y1="740.6" x2="397.8" y2="740.6" stroke="#404040" stroke-width="1.0" />
<text x="389.2" y="744.1" font-size="9.4" stroke="#262626" stroke-width="0.22" text-anchor="end" textLength="16.8" lengthAdjust="spacingAndGlyphs">0.02</text>
<line x1="394.6" y1="727.9" x2="397.8" y2="727.9" stroke="#404040" stroke-width="1.0" />
<text x="389.2" y="731.4" font-size="9.4" stroke="#262626" stroke-width="0.22" text-anchor="end" textLength="16.8" lengthAdjust="spacingAndGlyphs">0.04</text>
<line x1="394.6" y1="715.1" x2="397.8" y2="715.1" stroke="#404040" stroke-width="1.0" />
<text x="389.2" y="718.6" font-size="9.4" stroke="#262626" stroke-width="0.22" text-anchor="end" textLength="16.8" lengthAdjust="spacingAndGlyphs">0.06</text>
<line x1="394.6" y1="702.3" x2="397.8" y2="702.3" stroke="#404040" stroke-width="1.0" />
<text x="389.2" y="705.8" font-size="9.4" stroke="#262626" stroke-width="0.22" text-anchor="end" textLength="16.8" lengthAdjust="spacingAndGlyphs">0.08</text>
<line x1="394.6" y1="689.5" x2="397.8" y2="689.5" stroke="#404040" stroke-width="1.0" />
<text x="389.2" y="693.0" font-size="9.4" stroke="#262626" stroke-width="0.22" text-anchor="end" textLength="16.8" lengthAdjust="spacingAndGlyphs">0.10</text>
<line x1="394.6" y1="676.8" x2="397.8" y2="676.8" stroke="#404040" stroke-width="1.0" />
<text x="389.2" y="680.3" font-size="9.4" stroke="#262626" stroke-width="0.22" text-anchor="end" textLength="16.8" lengthAdjust="spacingAndGlyphs">0.12</text>
<line x1="394.6" y1="664.0" x2="397.8" y2="664.0" stroke="#404040" stroke-width="1.0" />
<text x="389.2" y="667.5" font-size="9.4" stroke="#262626" stroke-width="0.22" text-anchor="end" textLength="16.8" lengthAdjust="spacingAndGlyphs">0.14</text>
<line x1="394.6" y1="651.2" x2="397.8" y2="651.2" stroke="#404040" stroke-width="1.0" />
<text x="389.2" y="654.7" font-size="9.4" stroke="#262626" stroke-width="0.22" text-anchor="end" textLength="16.8" lengthAdjust="spacingAndGlyphs">0.16</text>
<line x1="394.6" y1="638.5" x2="397.8" y2="638.5" stroke="#404040" stroke-width="1.0" />
<text x="389.2" y="642.0" font-size="9.4" stroke="#262626" stroke-width="0.22" text-anchor="end" textLength="16.8" lengthAdjust="spacingAndGlyphs">0.18</text>
<line x1="397.8" y1="753.4" x2="661.9" y2="753.4" stroke="#595959" stroke-width="1.1" />
<text transform="translate(363.0,704.0) rotate(-90)" font-size="9.0" stroke="#262626" stroke-width="0.22" text-anchor="middle" textLength="32.0" lengthAdjust="spacingAndGlyphs">Ip/input</text>
<rect x="403.70" y="731.50" width="4.90" height="21.90" fill="#D9D9D9" stroke="#404040" stroke-width="0.7"/>
<rect x="410.50" y="715.40" width="4.90" height="38.00" fill="#00B0F0" stroke="#1F3864" stroke-width="0.7"/>
<rect x="416.70" y="732.80" width="4.90" height="20.60" fill="#C00000" stroke="#5A0000" stroke-width="0.7"/>
<line x1="406.1" y1="729.8" x2="406.1" y2="733.5" stroke="#505050" stroke-width="0.7" />
<line x1="404.8" y1="729.8" x2="407.4" y2="729.8" stroke="#505050" stroke-width="0.7" />
<line x1="404.8" y1="733.5" x2="407.4" y2="733.5" stroke="#505050" stroke-width="0.7" />
<line x1="412.9" y1="710.7" x2="412.9" y2="721.1" stroke="#505050" stroke-width="0.7" />
<line x1="411.6" y1="710.7" x2="414.2" y2="710.7" stroke="#505050" stroke-width="0.7" />
<line x1="411.6" y1="721.1" x2="414.2" y2="721.1" stroke="#505050" stroke-width="0.7" />
<line x1="419.1" y1="732.0" x2="419.1" y2="733.6" stroke="#505050" stroke-width="0.7" />
<line x1="417.8" y1="732.0" x2="420.4" y2="732.0" stroke="#505050" stroke-width="0.7" />
<line x1="417.8" y1="733.6" x2="420.4" y2="733.6" stroke="#505050" stroke-width="0.7" />
<text transform="translate(414.8,766.4) rotate(-45)" font-size="8.1" text-anchor="end" fill="#262626">(-5228)-(-5086)</text>
<rect x="433.10" y="717.40" width="4.90" height="36.00" fill="#D9D9D9" stroke="#404040" stroke-width="0.7"/>
<rect x="439.90" y="691.10" width="4.90" height="62.30" fill="#00B0F0" stroke="#1F3864" stroke-width="0.7"/>
<rect x="446.10" y="716.60" width="4.90" height="36.80" fill="#C00000" stroke="#5A0000" stroke-width="0.7"/>
<line x1="435.5" y1="712.2" x2="435.5" y2="722.0" stroke="#505050" stroke-width="0.7" />
<line x1="434.2" y1="712.2" x2="436.8" y2="712.2" stroke="#505050" stroke-width="0.7" />
<line x1="434.2" y1="722.0" x2="436.8" y2="722.0" stroke="#505050" stroke-width="0.7" />
<line x1="442.3" y1="680.1" x2="442.3" y2="701.0" stroke="#505050" stroke-width="0.7" />
<line x1="441.0" y1="680.1" x2="443.6" y2="680.1" stroke="#505050" stroke-width="0.7" />
<line x1="441.0" y1="701.0" x2="443.6" y2="701.0" stroke="#505050" stroke-width="0.7" />
<line x1="448.5" y1="712.2" x2="448.5" y2="720.0" stroke="#505050" stroke-width="0.7" />
<line x1="447.2" y1="712.2" x2="449.8" y2="712.2" stroke="#505050" stroke-width="0.7" />
<line x1="447.2" y1="720.0" x2="449.8" y2="720.0" stroke="#505050" stroke-width="0.7" />
<text transform="translate(444.2,766.4) rotate(-45)" font-size="8.1" text-anchor="end" fill="#262626">(-5005)-(-4796)</text>
<rect x="462.50" y="685.10" width="4.90" height="68.30" fill="#D9D9D9" stroke="#404040" stroke-width="0.7"/>
<rect x="469.30" y="659.30" width="4.90" height="94.10" fill="#00B0F0" stroke="#1F3864" stroke-width="0.7"/>
<rect x="475.50" y="694.30" width="4.90" height="59.10" fill="#C00000" stroke="#5A0000" stroke-width="0.7"/>
<line x1="464.9" y1="678.2" x2="464.9" y2="691.0" stroke="#505050" stroke-width="0.7" />
<line x1="463.6" y1="678.2" x2="466.2" y2="678.2" stroke="#505050" stroke-width="0.7" />
<line x1="463.6" y1="691.0" x2="466.2" y2="691.0" stroke="#505050" stroke-width="0.7" />
<line x1="471.8" y1="646.9" x2="471.8" y2="672.5" stroke="#505050" stroke-width="0.7" />
<line x1="470.4" y1="646.9" x2="473.1" y2="646.9" stroke="#505050" stroke-width="0.7" />
<line x1="470.4" y1="672.5" x2="473.1" y2="672.5" stroke="#505050" stroke-width="0.7" />
<line x1="477.9" y1="690.3" x2="477.9" y2="698.0" stroke="#505050" stroke-width="0.7" />
<line x1="476.6" y1="690.3" x2="479.2" y2="690.3" stroke="#505050" stroke-width="0.7" />
<line x1="476.6" y1="698.0" x2="479.2" y2="698.0" stroke="#505050" stroke-width="0.7" />
<text transform="translate(473.6,766.4) rotate(-45)" font-size="8.1" text-anchor="end" fill="#262626">(-3705)-(-3567)</text>
<rect x="491.90" y="728.50" width="4.90" height="24.90" fill="#D9D9D9" stroke="#404040" stroke-width="0.7"/>
<rect x="498.70" y="712.90" width="4.90" height="40.50" fill="#00B0F0" stroke="#1F3864" stroke-width="0.7"/>
<rect x="504.90" y="729.30" width="4.90" height="24.10" fill="#C00000" stroke="#5A0000" stroke-width="0.7"/>
<line x1="494.3" y1="726.0" x2="494.3" y2="731.0" stroke="#505050" stroke-width="0.7" />
<line x1="493.0" y1="726.0" x2="495.6" y2="726.0" stroke="#505050" stroke-width="0.7" />
<line x1="493.0" y1="731.0" x2="495.6" y2="731.0" stroke="#505050" stroke-width="0.7" />
<line x1="501.1" y1="711.0" x2="501.1" y2="715.0" stroke="#505050" stroke-width="0.7" />
<line x1="499.8" y1="711.0" x2="502.4" y2="711.0" stroke="#505050" stroke-width="0.7" />
<line x1="499.8" y1="715.0" x2="502.4" y2="715.0" stroke="#505050" stroke-width="0.7" />
<line x1="507.3" y1="726.0" x2="507.3" y2="732.0" stroke="#505050" stroke-width="0.7" />
<line x1="506.0" y1="726.0" x2="508.6" y2="726.0" stroke="#505050" stroke-width="0.7" />
<line x1="506.0" y1="732.0" x2="508.6" y2="732.0" stroke="#505050" stroke-width="0.7" />
<text transform="translate(503.0,766.4) rotate(-45)" font-size="8.1" text-anchor="end" fill="#262626">(-3257)-(-3102)</text>
<rect x="521.30" y="726.00" width="4.90" height="27.40" fill="#D9D9D9" stroke="#404040" stroke-width="0.7"/>
<rect x="528.10" y="665.80" width="4.90" height="87.60" fill="#00B0F0" stroke="#1F3864" stroke-width="0.7"/>
<rect x="534.30" y="716.60" width="4.90" height="36.80" fill="#C00000" stroke="#5A0000" stroke-width="0.7"/>
<line x1="523.8" y1="722.0" x2="523.8" y2="730.0" stroke="#505050" stroke-width="0.7" />
<line x1="522.5" y1="722.0" x2="525.0" y2="722.0" stroke="#505050" stroke-width="0.7" />
<line x1="522.5" y1="730.0" x2="525.0" y2="730.0" stroke="#505050" stroke-width="0.7" />
<line x1="530.6" y1="657.1" x2="530.6" y2="674.0" stroke="#505050" stroke-width="0.7" />
<line x1="529.3" y1="657.1" x2="531.9" y2="657.1" stroke="#505050" stroke-width="0.7" />
<line x1="529.3" y1="674.0" x2="531.9" y2="674.0" stroke="#505050" stroke-width="0.7" />
<line x1="536.8" y1="712.5" x2="536.8" y2="720.0" stroke="#505050" stroke-width="0.7" />
<line x1="535.5" y1="712.5" x2="538.0" y2="712.5" stroke="#505050" stroke-width="0.7" />
<line x1="535.5" y1="720.0" x2="538.0" y2="720.0" stroke="#505050" stroke-width="0.7" />
<text transform="translate(532.4,766.4) rotate(-45)" font-size="8.1" text-anchor="end" fill="#262626">(-2802)-(-2633)</text>
<rect x="550.70" y="717.90" width="4.90" height="35.50" fill="#D9D9D9" stroke="#404040" stroke-width="0.7"/>
<rect x="557.50" y="715.40" width="4.90" height="38.00" fill="#00B0F0" stroke="#1F3864" stroke-width="0.7"/>
<rect x="563.70" y="711.90" width="4.90" height="41.50" fill="#C00000" stroke="#5A0000" stroke-width="0.7"/>
<line x1="553.1" y1="714.0" x2="553.1" y2="722.0" stroke="#505050" stroke-width="0.7" />
<line x1="551.9" y1="714.0" x2="554.4" y2="714.0" stroke="#505050" stroke-width="0.7" />
<line x1="551.9" y1="722.0" x2="554.4" y2="722.0" stroke="#505050" stroke-width="0.7" />
<line x1="560.0" y1="711.5" x2="560.0" y2="719.0" stroke="#505050" stroke-width="0.7" />
<line x1="558.7" y1="711.5" x2="561.2" y2="711.5" stroke="#505050" stroke-width="0.7" />
<line x1="558.7" y1="719.0" x2="561.2" y2="719.0" stroke="#505050" stroke-width="0.7" />
<line x1="566.1" y1="708.0" x2="566.1" y2="716.0" stroke="#505050" stroke-width="0.7" />
<line x1="564.9" y1="708.0" x2="567.4" y2="708.0" stroke="#505050" stroke-width="0.7" />
<line x1="564.9" y1="716.0" x2="567.4" y2="716.0" stroke="#505050" stroke-width="0.7" />
<text transform="translate(561.8,766.4) rotate(-45)" font-size="8.1" text-anchor="end" fill="#262626">(-2255 )-(-2096)</text>
<rect x="580.10" y="723.60" width="4.90" height="29.80" fill="#D9D9D9" stroke="#404040" stroke-width="0.7"/>
<rect x="586.90" y="705.50" width="4.90" height="47.90" fill="#00B0F0" stroke="#1F3864" stroke-width="0.7"/>
<rect x="593.10" y="720.30" width="4.90" height="33.10" fill="#C00000" stroke="#5A0000" stroke-width="0.7"/>
<line x1="582.5" y1="720.0" x2="582.5" y2="727.0" stroke="#505050" stroke-width="0.7" />
<line x1="581.2" y1="720.0" x2="583.8" y2="720.0" stroke="#505050" stroke-width="0.7" />
<line x1="581.2" y1="727.0" x2="583.8" y2="727.0" stroke="#505050" stroke-width="0.7" />
<line x1="589.4" y1="704.5" x2="589.4" y2="706.5" stroke="#505050" stroke-width="0.7" />
<line x1="588.1" y1="704.5" x2="590.6" y2="704.5" stroke="#505050" stroke-width="0.7" />
<line x1="588.1" y1="706.5" x2="590.6" y2="706.5" stroke="#505050" stroke-width="0.7" />
<line x1="595.5" y1="716.0" x2="595.5" y2="724.0" stroke="#505050" stroke-width="0.7" />
<line x1="594.2" y1="716.0" x2="596.8" y2="716.0" stroke="#505050" stroke-width="0.7" />
<line x1="594.2" y1="724.0" x2="596.8" y2="724.0" stroke="#505050" stroke-width="0.7" />
<text transform="translate(591.2,766.4) rotate(-45)" font-size="8.1" text-anchor="end" fill="#262626">(-635)-(-474)</text>
<rect x="609.50" y="722.30" width="4.90" height="31.10" fill="#D9D9D9" stroke="#404040" stroke-width="0.7"/>
<rect x="616.30" y="712.40" width="4.90" height="41.00" fill="#00B0F0" stroke="#1F3864" stroke-width="0.7"/>
<rect x="622.50" y="720.30" width="4.90" height="33.10" fill="#C00000" stroke="#5A0000" stroke-width="0.7"/>
<line x1="611.9" y1="719.0" x2="611.9" y2="725.0" stroke="#505050" stroke-width="0.7" />
<line x1="610.6" y1="719.0" x2="613.2" y2="719.0" stroke="#505050" stroke-width="0.7" />
<line x1="610.6" y1="725.0" x2="613.2" y2="725.0" stroke="#505050" stroke-width="0.7" />
<line x1="618.8" y1="708.5" x2="618.8" y2="716.0" stroke="#505050" stroke-width="0.7" />
<line x1="617.5" y1="708.5" x2="620.0" y2="708.5" stroke="#505050" stroke-width="0.7" />
<line x1="617.5" y1="716.0" x2="620.0" y2="716.0" stroke="#505050" stroke-width="0.7" />
<line x1="624.9" y1="717.0" x2="624.9" y2="723.5" stroke="#505050" stroke-width="0.7" />
<line x1="623.6" y1="717.0" x2="626.2" y2="717.0" stroke="#505050" stroke-width="0.7" />
<line x1="623.6" y1="723.5" x2="626.2" y2="723.5" stroke="#505050" stroke-width="0.7" />
<text transform="translate(620.6,766.4) rotate(-45)" font-size="8.1" text-anchor="end" fill="#262626">(-68)-(+61)</text>
<rect x="638.90" y="707.40" width="4.90" height="46.00" fill="#D9D9D9" stroke="#404040" stroke-width="0.7"/>
<rect x="645.70" y="712.90" width="4.90" height="40.50" fill="#00B0F0" stroke="#1F3864" stroke-width="0.7"/>
<rect x="651.90" y="716.60" width="4.90" height="36.80" fill="#C00000" stroke="#5A0000" stroke-width="0.7"/>
<line x1="641.3" y1="701.2" x2="641.3" y2="713.5" stroke="#505050" stroke-width="0.7" />
<line x1="640.0" y1="701.2" x2="642.6" y2="701.2" stroke="#505050" stroke-width="0.7" />
<line x1="640.0" y1="713.5" x2="642.6" y2="713.5" stroke="#505050" stroke-width="0.7" />
<line x1="648.1" y1="709.0" x2="648.1" y2="717.0" stroke="#505050" stroke-width="0.7" />
<line x1="646.9" y1="709.0" x2="649.4" y2="709.0" stroke="#505050" stroke-width="0.7" />
<line x1="646.9" y1="717.0" x2="649.4" y2="717.0" stroke="#505050" stroke-width="0.7" />
<line x1="654.3" y1="713.5" x2="654.3" y2="719.5" stroke="#505050" stroke-width="0.7" />
<line x1="653.0" y1="713.5" x2="655.6" y2="713.5" stroke="#505050" stroke-width="0.7" />
<line x1="653.0" y1="719.5" x2="655.6" y2="719.5" stroke="#505050" stroke-width="0.7" />
<text transform="translate(650.0,766.4) rotate(-45)" font-size="8.1" text-anchor="end" fill="#262626">Znf2</text>
<text x="412.8" y="709.7" font-size="11.5" stroke="#1F8FE8" stroke-width="0.22" text-anchor="middle" fill="#1F8FE8">*</text>
<text x="501.4" y="711.5" font-size="11.5" stroke="#1F8FE8" stroke-width="0.22" text-anchor="middle" fill="#1F8FE8" textLength="9.0" lengthAdjust="spacingAndGlyphs">**</text>
<text x="529.9" y="656.4" font-size="11.5" stroke="#1F8FE8" stroke-width="0.22" text-anchor="middle" fill="#1F8FE8" textLength="9.0" lengthAdjust="spacingAndGlyphs">**</text>
<text x="536.8" y="710.7" font-size="11.5" stroke="#E0102A" stroke-width="0.22" text-anchor="middle" fill="#E0102A">*</text>
<text x="618.0" y="707.7" font-size="11.5" stroke="#1F8FE8" stroke-width="0.22" text-anchor="middle" fill="#1F8FE8" textLength="9.0" lengthAdjust="spacingAndGlyphs">**</text>
<rect x="602.30" y="634.70" width="6.40" height="6.20" fill="#D9D9D9" stroke="#333" stroke-width="0.7" />
<text x="616.2" y="642.0" font-size="10.2" stroke="#262626" stroke-width="0.22" textLength="13.0" lengthAdjust="spacingAndGlyphs">NT</text>
<rect x="602.30" y="647.60" width="6.40" height="6.20" fill="#00B0F0" stroke="#333" stroke-width="0.7" />
<text x="616.2" y="654.9" font-size="10.2" stroke="#262626" stroke-width="0.22" textLength="19.5" lengthAdjust="spacingAndGlyphs">TSA</text>
<rect x="602.30" y="660.30" width="6.40" height="6.20" fill="#C00000" stroke="#333" stroke-width="0.7" />
<text x="616.2" y="667.6" font-size="10.2" stroke="#262626" stroke-width="0.22" textLength="24.9" lengthAdjust="spacingAndGlyphs">GnRH</text>
<text x="439.4" y="821.1" font-size="9.0" stroke="#262626" stroke-width="0.22" textLength="102.9" lengthAdjust="spacingAndGlyphs">Distance (bp) from <tspan font-style="italic">Lhb</tspan> TSS</text>
</svg>
</body></html>
